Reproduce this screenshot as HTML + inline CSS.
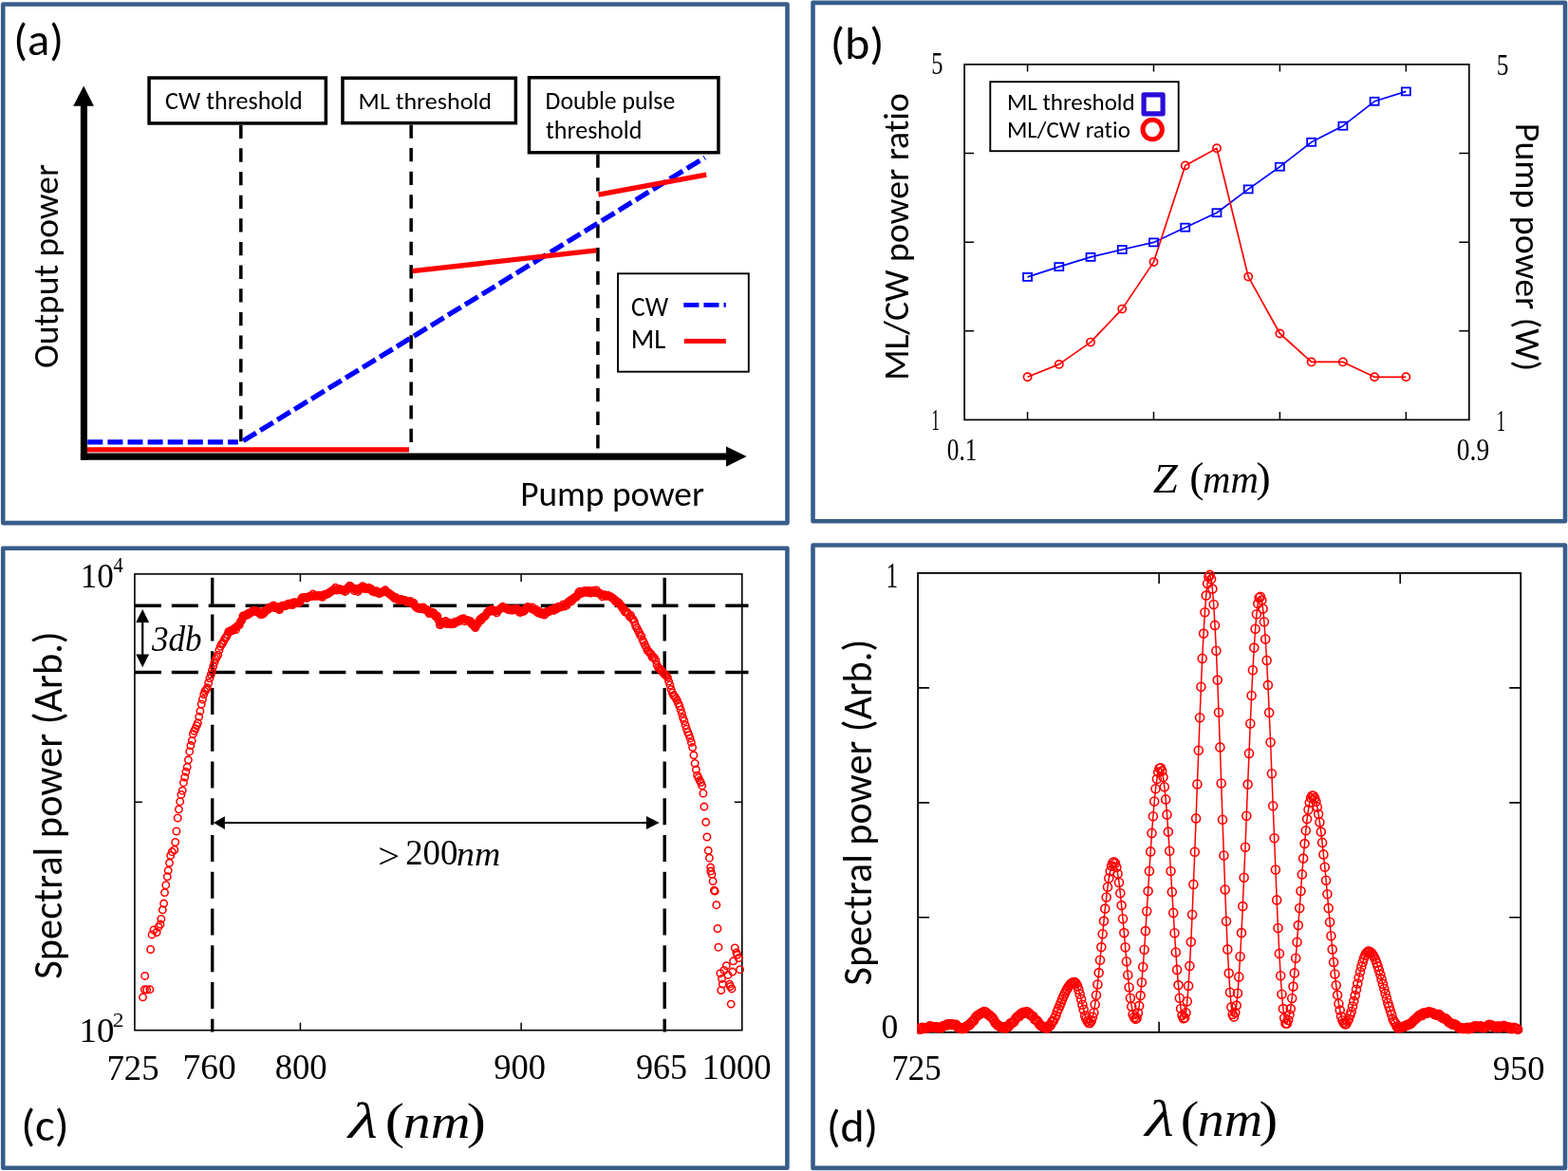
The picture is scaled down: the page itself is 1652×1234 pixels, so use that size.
<!DOCTYPE html>
<html><head><meta charset="utf-8"><title>figure</title>
<style>html,body{margin:0;padding:0;background:#fff;} svg{display:block;} text{font-variant-ligatures:none;}</style></head>
<body><svg width="1652" height="1234" viewBox="0 0 1652 1234">
<rect width="1652" height="1234" fill="#fff"/>
<rect x="3.2" y="4.5" width="826.30" height="546.60" fill="none" stroke="#385D8A" stroke-width="4.6" stroke-linejoin="round"/>
<rect x="856.5" y="2.9" width="792.50" height="546.40" fill="none" stroke="#385D8A" stroke-width="4.6" stroke-linejoin="round"/>
<rect x="3.2" y="577.7" width="826.20" height="653.10" fill="none" stroke="#385D8A" stroke-width="4.6" stroke-linejoin="round"/>
<rect x="856.5" y="574.5" width="792.50" height="656.40" fill="none" stroke="#385D8A" stroke-width="4.6" stroke-linejoin="round"/>
<line x1="88.4" y1="484.6" x2="88.4" y2="110" stroke="#000" stroke-width="7.1"/>
<polygon points="77.2,111.8 98.9,111.8 88.2,90.4" fill="#000"/>
<line x1="84.9" y1="481.05" x2="766" y2="481.05" stroke="#000" stroke-width="7.2"/>
<polygon points="765,470.4 765,491.8 786.7,481.05" fill="#000"/>
<rect x="157.05" y="82.05" width="186.30" height="47.90" fill="#fff" stroke="#000" stroke-width="3.5"/>
<rect x="360.95" y="82.25" width="182.40" height="47.40" fill="#fff" stroke="#000" stroke-width="3.5"/>
<rect x="557.45" y="81.75" width="199.50" height="79.00" fill="#fff" stroke="#000" stroke-width="3.5"/>
<line x1="253.8" y1="131.7" x2="253.8" y2="465.2" stroke="#000" stroke-width="3.5" stroke-dasharray="14.3 10.35"/>
<line x1="433.15" y1="131.4" x2="433.15" y2="466.0" stroke="#000" stroke-width="3.5" stroke-dasharray="14.3 10.35"/>
<line x1="629.9" y1="162.5" x2="629.9" y2="472.6" stroke="#000" stroke-width="3.5" stroke-dasharray="14.3 10.35"/>
<line x1="92.3" y1="465.85" x2="250.8" y2="465.85" stroke="#0000FF" stroke-width="5.3" stroke-dasharray="16 5.1"/>
<line x1="256.2" y1="464.55" x2="742.6" y2="166.0" stroke="#0000FF" stroke-width="5.3" stroke-dasharray="16 5.1"/>
<line x1="92" y1="473.85" x2="431" y2="473.85" stroke="#FF0000" stroke-width="5.4"/>
<line x1="434.6" y1="285.7" x2="628.2" y2="263.9" stroke="#FF0000" stroke-width="5.3"/>
<line x1="630.5" y1="205.2" x2="744.2" y2="184.2" stroke="#FF0000" stroke-width="5.3"/>
<rect x="651" y="288.3" width="137.8" height="103.4" fill="#fff" stroke="#000" stroke-width="1.9"/>
<line x1="720.3" y1="321.4" x2="764.8" y2="321.4" stroke="#0000FF" stroke-width="4.8" stroke-dasharray="16.1 5"/>
<line x1="720.8" y1="359.5" x2="764.8" y2="359.5" stroke="#FF0000" stroke-width="5"/>
<rect x="1016.1" y="67.9" width="531.70" height="374.50" fill="none" stroke="#000" stroke-width="1.7"/>
<path d="M1082.56,442.4v-8.5M1082.56,67.9v7.5M1215.49,442.4v-8.5M1215.49,67.9v7.5M1348.41,442.4v-8.5M1348.41,67.9v7.5M1481.34,442.4v-8.5M1481.34,67.9v7.5M1016.1,161.53h10M1547.8,161.53h-10.5M1016.1,255.15h10M1547.8,255.15h-10.5M1016.1,348.77h10M1547.8,348.77h-10.5" stroke="#000" stroke-width="1.5" fill="none"/>
<polyline points="1082.56,291.9 1115.79,281.1 1149.03,270.9 1182.26,263.0 1215.49,255.4 1248.72,239.7 1281.95,224.2 1315.18,199.4 1348.41,175.7 1381.64,149.8 1414.88,132.7 1448.11,106.8 1481.34,96.4" fill="none" stroke="#0000FF" stroke-width="1.7" stroke-linejoin="round"/>
<polyline points="1082.56,397.2 1115.79,383.9 1149.03,360.6 1182.26,325.6 1215.49,276.1 1248.72,174.5 1281.95,156.3 1315.18,291.6 1348.41,351.5 1381.64,381.4 1414.88,381.4 1448.11,397.3 1481.34,397.3" fill="none" stroke="#FF0000" stroke-width="1.7" stroke-linejoin="round"/>
<rect x="1078.06" y="287.90" width="9" height="8" fill="none" stroke="#0000FF" stroke-width="1.8"/>
<rect x="1111.29" y="277.10" width="9" height="8" fill="none" stroke="#0000FF" stroke-width="1.8"/>
<rect x="1144.53" y="266.90" width="9" height="8" fill="none" stroke="#0000FF" stroke-width="1.8"/>
<rect x="1177.76" y="259.00" width="9" height="8" fill="none" stroke="#0000FF" stroke-width="1.8"/>
<rect x="1210.99" y="251.40" width="9" height="8" fill="none" stroke="#0000FF" stroke-width="1.8"/>
<rect x="1244.22" y="235.70" width="9" height="8" fill="none" stroke="#0000FF" stroke-width="1.8"/>
<rect x="1277.45" y="220.20" width="9" height="8" fill="none" stroke="#0000FF" stroke-width="1.8"/>
<rect x="1310.68" y="195.40" width="9" height="8" fill="none" stroke="#0000FF" stroke-width="1.8"/>
<rect x="1343.91" y="171.70" width="9" height="8" fill="none" stroke="#0000FF" stroke-width="1.8"/>
<rect x="1377.14" y="145.80" width="9" height="8" fill="none" stroke="#0000FF" stroke-width="1.8"/>
<rect x="1410.38" y="128.70" width="9" height="8" fill="none" stroke="#0000FF" stroke-width="1.8"/>
<rect x="1443.61" y="102.80" width="9" height="8" fill="none" stroke="#0000FF" stroke-width="1.8"/>
<rect x="1476.84" y="92.40" width="9" height="8" fill="none" stroke="#0000FF" stroke-width="1.8"/>
<circle cx="1082.56" cy="397.2" r="4.1" fill="none" stroke="#FF0000" stroke-width="1.7"/>
<circle cx="1115.79" cy="383.9" r="4.1" fill="none" stroke="#FF0000" stroke-width="1.7"/>
<circle cx="1149.03" cy="360.6" r="4.1" fill="none" stroke="#FF0000" stroke-width="1.7"/>
<circle cx="1182.26" cy="325.6" r="4.1" fill="none" stroke="#FF0000" stroke-width="1.7"/>
<circle cx="1215.49" cy="276.1" r="4.1" fill="none" stroke="#FF0000" stroke-width="1.7"/>
<circle cx="1248.72" cy="174.5" r="4.1" fill="none" stroke="#FF0000" stroke-width="1.7"/>
<circle cx="1281.95" cy="156.3" r="4.1" fill="none" stroke="#FF0000" stroke-width="1.7"/>
<circle cx="1315.18" cy="291.6" r="4.1" fill="none" stroke="#FF0000" stroke-width="1.7"/>
<circle cx="1348.41" cy="351.5" r="4.1" fill="none" stroke="#FF0000" stroke-width="1.7"/>
<circle cx="1381.64" cy="381.4" r="4.1" fill="none" stroke="#FF0000" stroke-width="1.7"/>
<circle cx="1414.88" cy="381.4" r="4.1" fill="none" stroke="#FF0000" stroke-width="1.7"/>
<circle cx="1448.11" cy="397.3" r="4.1" fill="none" stroke="#FF0000" stroke-width="1.7"/>
<circle cx="1481.34" cy="397.3" r="4.1" fill="none" stroke="#FF0000" stroke-width="1.7"/>
<rect x="1043.3" y="86.2" width="198.4" height="73" fill="#fff" stroke="#000" stroke-width="1.9"/>
<rect x="1205.1" y="99.85" width="20" height="20" fill="none" stroke="#2A0CDA" stroke-width="5.2" stroke-linejoin="round"/>
<circle cx="1214.2" cy="136.5" r="10.2" fill="none" stroke="#FF0000" stroke-width="5"/>
<rect x="141.9" y="604.9" width="639.90" height="480.80" fill="none" stroke="#000" stroke-width="1.6"/>
<path d="M316.42,1085.7v-8M316.42,604.9v8M549.11,1085.7v-8M549.11,604.9v8M141.9,845.30h8M781.8,845.30h-8" stroke="#000" stroke-width="1.5" fill="none"/>
<line x1="141.9" y1="638.2" x2="788.5" y2="638.2" stroke="#000" stroke-width="3.5" stroke-dasharray="28 10.9"/>
<line x1="141.9" y1="708.5" x2="788.5" y2="708.5" stroke="#000" stroke-width="3.5" stroke-dasharray="28 10.9"/>
<line x1="223.7" y1="608.7" x2="223.7" y2="1087.5" stroke="#000" stroke-width="3.4" stroke-dasharray="28 10.75"/>
<line x1="700.2" y1="608.7" x2="700.2" y2="1087.5" stroke="#000" stroke-width="3.4" stroke-dasharray="28 10.75"/>
<polyline points="242.2,665.2 243.4,664.2 244.7,663.4 245.9,663.0 247.2,662.6 248.4,662.2 249.7,661.3 250.9,659.6 252.2,657.9 253.4,656.2 254.7,653.7 255.9,650.5 257.1,648.6 258.4,648.1 259.6,647.5 260.9,647.0 262.1,646.5 263.4,645.7 264.6,644.9 265.9,644.1 267.1,643.3 268.4,642.5 269.6,643.2 270.9,644.1 272.1,645.1 273.4,646.0 274.6,647.0 275.9,646.7 277.1,645.8 278.4,644.8 279.6,643.9 280.9,642.9 282.1,642.2 283.4,641.6 284.6,641.1 285.9,640.5 287.1,640.0 288.4,639.4 289.6,639.7 290.9,640.5 292.1,641.4 293.4,642.2 294.6,641.5 295.9,640.2 297.1,639.0 298.4,637.8 299.6,637.5 300.9,637.3 302.1,637.1 303.4,636.9 304.6,636.8 305.9,636.5 307.1,636.3 308.4,636.0 309.6,635.8 310.9,635.8 312.1,636.0 313.4,636.2 314.6,635.7 315.9,634.2 317.1,632.7 318.4,631.2 319.6,630.1 320.9,629.8 322.1,629.4 323.4,629.0 324.6,628.6 325.9,628.3 327.1,628.0 328.4,627.7 329.6,627.4 330.9,627.1 332.1,626.8 333.4,626.8 334.6,627.3 335.9,627.8 337.1,628.3 338.4,628.8 339.6,628.9 340.9,628.4 342.1,627.9 343.4,627.4 344.6,626.8 345.9,626.2 347.1,625.6 348.4,624.9 349.6,624.0 350.9,622.9 352.1,621.8 353.4,620.8 354.6,620.9 355.9,621.2 357.1,621.5 358.4,621.8 359.6,622.1 360.9,622.5 362.1,622.8 363.4,622.4 364.6,621.3 365.9,620.2 367.1,619.0 368.4,618.4 369.6,619.2 370.9,620.0 372.1,620.9 373.4,621.7 374.6,622.0 375.9,622.3 377.1,622.1 378.4,621.3 379.6,620.6 380.9,619.8 382.1,619.1 383.4,619.0 384.6,619.2 385.9,619.4 387.1,619.7 388.4,619.9 389.6,620.6 390.9,621.4 392.1,622.2 393.4,622.9 394.6,623.2 395.9,623.5 397.1,623.7 398.4,624.0 399.6,624.2 400.9,623.7 402.1,623.3 403.4,622.8 404.6,622.4 405.9,622.6 407.1,623.9 408.4,625.1 409.6,626.4 410.9,627.6 412.1,628.0 413.4,628.4 414.6,628.8 415.9,629.2 417.1,629.7 418.4,630.1 419.6,630.7 420.9,631.4 422.1,632.0 423.4,632.6 424.6,633.2 425.9,633.6 427.1,633.6 428.4,633.6 429.6,633.6 430.9,633.6 432.1,633.6 433.4,634.2 434.6,635.4 435.9,636.5 437.1,637.7 438.4,638.8 439.6,639.7 440.9,640.5 442.1,641.3 443.4,641.2 444.6,640.9 445.9,640.6 447.1,640.3 448.4,641.5 449.6,642.7 450.9,643.9 452.1,645.1 453.4,645.6 454.6,646.1 455.9,646.6 457.1,647.1 458.4,647.8 459.6,649.1 460.9,650.4 462.1,652.8 463.4,657.1 464.6,657.5 465.9,657.1 467.1,656.7 468.4,656.4 469.6,656.0 470.9,656.1 472.1,656.3 473.4,656.4 474.6,656.5 475.9,656.6 477.1,656.5 478.4,656.3 479.6,656.2 480.9,656.1 482.1,655.7 483.4,654.9 484.6,654.1 485.9,653.3 487.1,652.4 488.4,652.9 489.6,653.5 490.9,653.6 492.1,653.6 493.4,653.6 494.6,653.6 495.9,655.0 497.1,656.6 498.4,658.3 499.6,659.9 500.9,661.5 502.1,659.5 503.4,657.5 504.6,655.5 505.9,654.0 507.1,652.8 508.4,651.5 509.6,650.2 510.9,649.0 512.1,647.5 513.4,646.0 514.6,644.4 515.9,642.8 517.1,643.1 518.4,643.5 519.6,643.9 520.9,644.3 522.1,644.7 523.4,645.0 524.6,643.6 525.9,642.2 527.1,640.8 528.4,639.4 529.6,639.5 530.9,640.0 532.1,640.6 533.4,641.1 534.6,641.6 535.9,642.1 537.1,642.7 538.4,642.3 539.6,641.9 540.9,641.5 542.1,641.1 543.4,641.3 544.6,642.1 545.9,642.9 547.1,643.6 548.4,644.4 549.6,645.2 550.9,645.3 552.1,644.2 553.4,643.1 554.6,641.9 555.9,640.8 557.1,639.7 558.4,639.5 559.6,640.2 560.9,641.0 562.1,641.7 563.4,642.5 564.6,643.3 565.9,644.0 567.1,644.5 568.4,645.0 569.6,645.5 570.9,646.1 572.1,646.6 573.4,646.7 574.6,646.1 575.9,645.5 577.1,645.0 578.4,644.4 579.6,643.9 580.9,643.4 582.1,643.1 583.4,642.7 584.6,642.3 585.9,642.0 587.1,641.4 588.4,640.8 589.6,640.1 590.9,639.5 592.1,638.9 593.4,638.3 594.6,637.6 595.9,637.0 597.1,636.4 598.4,635.8 599.6,634.9 600.9,634.0 602.1,633.1 603.4,632.2 604.6,631.1 605.9,629.6 607.1,628.1 608.4,626.6 609.6,625.2 610.9,624.3 612.1,624.2 613.4,624.1 614.6,624.0 615.9,623.8 617.1,623.8 618.4,623.8 619.6,623.8 620.9,623.8 622.1,623.8 623.4,623.7 624.6,623.6 625.9,623.5 627.1,623.3 628.4,623.2 629.6,624.1 630.9,624.9 632.1,625.8 633.4,626.6 634.6,627.4 635.9,627.7 637.1,627.9 638.4,628.2 639.6,628.4 640.9,628.8 642.1,629.4 643.4,630.0 644.6,630.6 645.9,631.3 647.1,632.0 648.4,633.1 649.6,634.1 650.9,635.1 652.1,636.1 653.4,637.8 654.6,639.8" fill="none" stroke="#FF0000" stroke-width="6.5" stroke-linejoin="round" stroke-linecap="round"/>
<g fill="none" stroke="#FF0000" stroke-width="1.55"><circle cx="150.5" cy="1050.8" r="3.7"/><circle cx="152.4" cy="1042.7" r="3.7"/><circle cx="154.6" cy="1043.0" r="3.7"/><circle cx="157.9" cy="1042.7" r="3.7"/><circle cx="152.7" cy="1028.4" r="3.7"/><circle cx="158.6" cy="1000.5" r="3.7"/><circle cx="160.1" cy="984.9" r="3.7"/><circle cx="162.0" cy="980.0" r="3.7"/><circle cx="165.1" cy="982.5" r="3.7"/><circle cx="167.0" cy="976.9" r="3.7"/><circle cx="168.9" cy="974.1" r="3.7"/><circle cx="169.8" cy="968.5" r="3.7"/><circle cx="171.3" cy="958.8" r="3.7"/><circle cx="172.6" cy="952.1" r="3.7"/><circle cx="173.5" cy="940.6" r="3.7"/><circle cx="174.8" cy="932.7" r="3.7"/><circle cx="176.3" cy="923.8" r="3.7"/><circle cx="177.2" cy="917.3" r="3.7"/><circle cx="178.5" cy="909.3" r="3.7"/><circle cx="179.7" cy="901.5" r="3.7"/><circle cx="181.3" cy="897.7" r="3.7"/><circle cx="183.8" cy="895.5" r="3.7"/><circle cx="184.7" cy="887.5" r="3.7"/><circle cx="185.9" cy="876.0" r="3.7"/><circle cx="187.2" cy="862.0" r="3.7"/><circle cx="188.4" cy="852.8" r="3.7"/><circle cx="189.7" cy="844.7" r="3.7"/><circle cx="190.9" cy="837.4" r="3.7"/><circle cx="192.2" cy="833.2" r="3.7"/><circle cx="193.4" cy="824.7" r="3.7"/><circle cx="194.7" cy="819.1" r="3.7"/><circle cx="195.9" cy="813.3" r="3.7"/><circle cx="197.2" cy="808.3" r="3.7"/><circle cx="198.4" cy="800.8" r="3.7"/><circle cx="199.7" cy="791.9" r="3.7"/><circle cx="200.9" cy="785.6" r="3.7"/><circle cx="202.2" cy="780.6" r="3.7"/><circle cx="203.4" cy="773.5" r="3.7"/><circle cx="204.7" cy="770.4" r="3.7"/><circle cx="205.9" cy="767.8" r="3.7"/><circle cx="207.2" cy="764.7" r="3.7"/><circle cx="208.4" cy="761.8" r="3.7"/><circle cx="209.7" cy="755.3" r="3.7"/><circle cx="210.9" cy="749.4" r="3.7"/><circle cx="212.2" cy="742.0" r="3.7"/><circle cx="213.4" cy="737.0" r="3.7"/><circle cx="214.7" cy="731.8" r="3.7"/><circle cx="215.9" cy="728.5" r="3.7"/><circle cx="217.2" cy="726.7" r="3.7"/><circle cx="218.4" cy="724.8" r="3.7"/><circle cx="219.7" cy="719.5" r="3.7"/><circle cx="220.9" cy="714.8" r="3.7"/><circle cx="222.2" cy="710.8" r="3.7"/><circle cx="223.4" cy="706.7" r="3.7"/><circle cx="224.7" cy="702.1" r="3.7"/><circle cx="225.9" cy="698.2" r="3.7"/><circle cx="227.2" cy="694.5" r="3.7"/><circle cx="228.4" cy="692.3" r="3.7"/><circle cx="229.7" cy="690.2" r="3.7"/><circle cx="230.9" cy="685.0" r="3.7"/><circle cx="232.2" cy="681.3" r="3.7"/><circle cx="233.4" cy="678.9" r="3.7"/><circle cx="234.7" cy="677.6" r="3.7"/><circle cx="235.9" cy="675.2" r="3.7"/><circle cx="237.2" cy="672.3" r="3.7"/><circle cx="238.4" cy="671.3" r="3.7"/><circle cx="239.7" cy="668.6" r="3.7"/><circle cx="240.9" cy="665.5" r="3.7"/><circle cx="242.2" cy="665.4" r="3.7"/><circle cx="243.4" cy="664.3" r="3.7"/><circle cx="244.7" cy="664.5" r="3.7"/><circle cx="245.9" cy="663.7" r="3.7"/><circle cx="247.2" cy="661.9" r="3.7"/><circle cx="248.4" cy="663.6" r="3.7"/><circle cx="249.7" cy="660.1" r="3.7"/><circle cx="250.9" cy="659.4" r="3.7"/><circle cx="252.2" cy="658.7" r="3.7"/><circle cx="253.4" cy="655.2" r="3.7"/><circle cx="254.7" cy="653.7" r="3.7"/><circle cx="255.9" cy="649.1" r="3.7"/><circle cx="257.1" cy="649.1" r="3.7"/><circle cx="258.4" cy="648.9" r="3.7"/><circle cx="259.6" cy="647.8" r="3.7"/><circle cx="260.9" cy="648.1" r="3.7"/><circle cx="262.1" cy="645.9" r="3.7"/><circle cx="263.4" cy="646.3" r="3.7"/><circle cx="264.6" cy="645.2" r="3.7"/><circle cx="265.9" cy="644.3" r="3.7"/><circle cx="267.1" cy="643.2" r="3.7"/><circle cx="268.4" cy="643.5" r="3.7"/><circle cx="269.6" cy="644.5" r="3.7"/><circle cx="270.9" cy="644.1" r="3.7"/><circle cx="272.1" cy="645.6" r="3.7"/><circle cx="273.4" cy="644.7" r="3.7"/><circle cx="274.6" cy="647.6" r="3.7"/><circle cx="275.9" cy="647.1" r="3.7"/><circle cx="277.1" cy="647.2" r="3.7"/><circle cx="278.4" cy="645.8" r="3.7"/><circle cx="279.6" cy="643.2" r="3.7"/><circle cx="280.9" cy="642.6" r="3.7"/><circle cx="282.1" cy="642.7" r="3.7"/><circle cx="283.4" cy="640.2" r="3.7"/><circle cx="284.6" cy="640.9" r="3.7"/><circle cx="285.9" cy="639.5" r="3.7"/><circle cx="287.1" cy="638.8" r="3.7"/><circle cx="288.4" cy="638.1" r="3.7"/><circle cx="289.6" cy="640.5" r="3.7"/><circle cx="290.9" cy="639.4" r="3.7"/><circle cx="292.1" cy="640.6" r="3.7"/><circle cx="293.4" cy="641.9" r="3.7"/><circle cx="294.6" cy="642.6" r="3.7"/><circle cx="295.9" cy="639.0" r="3.7"/><circle cx="297.1" cy="638.9" r="3.7"/><circle cx="298.4" cy="637.9" r="3.7"/><circle cx="299.6" cy="638.6" r="3.7"/><circle cx="300.9" cy="638.2" r="3.7"/><circle cx="302.1" cy="638.2" r="3.7"/><circle cx="303.4" cy="636.3" r="3.7"/><circle cx="304.6" cy="636.5" r="3.7"/><circle cx="305.9" cy="636.1" r="3.7"/><circle cx="307.1" cy="637.4" r="3.7"/><circle cx="308.4" cy="637.4" r="3.7"/><circle cx="309.6" cy="634.7" r="3.7"/><circle cx="310.9" cy="634.9" r="3.7"/><circle cx="312.1" cy="635.2" r="3.7"/><circle cx="313.4" cy="635.4" r="3.7"/><circle cx="314.6" cy="635.7" r="3.7"/><circle cx="315.9" cy="634.5" r="3.7"/><circle cx="317.1" cy="632.0" r="3.7"/><circle cx="318.4" cy="629.7" r="3.7"/><circle cx="319.6" cy="629.9" r="3.7"/><circle cx="320.9" cy="629.4" r="3.7"/><circle cx="322.1" cy="629.6" r="3.7"/><circle cx="323.4" cy="630.4" r="3.7"/><circle cx="324.6" cy="629.2" r="3.7"/><circle cx="325.9" cy="628.4" r="3.7"/><circle cx="327.1" cy="628.4" r="3.7"/><circle cx="328.4" cy="628.2" r="3.7"/><circle cx="329.6" cy="626.1" r="3.7"/><circle cx="330.9" cy="628.3" r="3.7"/><circle cx="332.1" cy="627.6" r="3.7"/><circle cx="333.4" cy="627.9" r="3.7"/><circle cx="334.6" cy="628.2" r="3.7"/><circle cx="335.9" cy="627.5" r="3.7"/><circle cx="337.1" cy="628.0" r="3.7"/><circle cx="338.4" cy="627.6" r="3.7"/><circle cx="339.6" cy="629.3" r="3.7"/><circle cx="340.9" cy="627.1" r="3.7"/><circle cx="342.1" cy="626.6" r="3.7"/><circle cx="343.4" cy="626.5" r="3.7"/><circle cx="344.6" cy="625.8" r="3.7"/><circle cx="345.9" cy="625.7" r="3.7"/><circle cx="347.1" cy="624.2" r="3.7"/><circle cx="348.4" cy="623.5" r="3.7"/><circle cx="349.6" cy="622.9" r="3.7"/><circle cx="350.9" cy="621.7" r="3.7"/><circle cx="352.1" cy="621.4" r="3.7"/><circle cx="353.4" cy="619.3" r="3.7"/><circle cx="354.6" cy="622.0" r="3.7"/><circle cx="355.9" cy="621.5" r="3.7"/><circle cx="357.1" cy="620.4" r="3.7"/><circle cx="358.4" cy="621.1" r="3.7"/><circle cx="359.6" cy="621.7" r="3.7"/><circle cx="360.9" cy="622.1" r="3.7"/><circle cx="362.1" cy="621.7" r="3.7"/><circle cx="363.4" cy="623.4" r="3.7"/><circle cx="364.6" cy="622.7" r="3.7"/><circle cx="365.9" cy="620.1" r="3.7"/><circle cx="367.1" cy="619.0" r="3.7"/><circle cx="368.4" cy="617.2" r="3.7"/><circle cx="369.6" cy="618.0" r="3.7"/><circle cx="370.9" cy="619.6" r="3.7"/><circle cx="372.1" cy="620.1" r="3.7"/><circle cx="373.4" cy="622.7" r="3.7"/><circle cx="374.6" cy="621.0" r="3.7"/><circle cx="375.9" cy="620.8" r="3.7"/><circle cx="377.1" cy="623.4" r="3.7"/><circle cx="378.4" cy="621.4" r="3.7"/><circle cx="379.6" cy="619.5" r="3.7"/><circle cx="380.9" cy="619.9" r="3.7"/><circle cx="382.1" cy="617.7" r="3.7"/><circle cx="383.4" cy="619.0" r="3.7"/><circle cx="384.6" cy="620.6" r="3.7"/><circle cx="385.9" cy="620.5" r="3.7"/><circle cx="387.1" cy="620.3" r="3.7"/><circle cx="388.4" cy="619.2" r="3.7"/><circle cx="389.6" cy="620.2" r="3.7"/><circle cx="390.9" cy="620.4" r="3.7"/><circle cx="392.1" cy="623.0" r="3.7"/><circle cx="393.4" cy="623.0" r="3.7"/><circle cx="394.6" cy="624.1" r="3.7"/><circle cx="395.9" cy="623.0" r="3.7"/><circle cx="397.1" cy="622.9" r="3.7"/><circle cx="398.4" cy="624.9" r="3.7"/><circle cx="399.6" cy="625.6" r="3.7"/><circle cx="400.9" cy="624.8" r="3.7"/><circle cx="402.1" cy="624.2" r="3.7"/><circle cx="403.4" cy="623.8" r="3.7"/><circle cx="404.6" cy="623.1" r="3.7"/><circle cx="405.9" cy="621.8" r="3.7"/><circle cx="407.1" cy="623.9" r="3.7"/><circle cx="408.4" cy="624.7" r="3.7"/><circle cx="409.6" cy="624.9" r="3.7"/><circle cx="410.9" cy="626.2" r="3.7"/><circle cx="412.1" cy="627.3" r="3.7"/><circle cx="413.4" cy="627.7" r="3.7"/><circle cx="414.6" cy="629.4" r="3.7"/><circle cx="415.9" cy="630.6" r="3.7"/><circle cx="417.1" cy="629.5" r="3.7"/><circle cx="418.4" cy="631.4" r="3.7"/><circle cx="419.6" cy="632.2" r="3.7"/><circle cx="420.9" cy="632.7" r="3.7"/><circle cx="422.1" cy="631.6" r="3.7"/><circle cx="423.4" cy="631.8" r="3.7"/><circle cx="424.6" cy="632.4" r="3.7"/><circle cx="425.9" cy="632.7" r="3.7"/><circle cx="427.1" cy="632.7" r="3.7"/><circle cx="428.4" cy="634.0" r="3.7"/><circle cx="429.6" cy="634.8" r="3.7"/><circle cx="430.9" cy="634.6" r="3.7"/><circle cx="432.1" cy="633.5" r="3.7"/><circle cx="433.4" cy="634.7" r="3.7"/><circle cx="434.6" cy="636.3" r="3.7"/><circle cx="435.9" cy="635.3" r="3.7"/><circle cx="437.1" cy="638.2" r="3.7"/><circle cx="438.4" cy="640.1" r="3.7"/><circle cx="439.6" cy="640.6" r="3.7"/><circle cx="440.9" cy="641.3" r="3.7"/><circle cx="442.1" cy="641.3" r="3.7"/><circle cx="443.4" cy="640.3" r="3.7"/><circle cx="444.6" cy="641.8" r="3.7"/><circle cx="445.9" cy="640.1" r="3.7"/><circle cx="447.1" cy="641.2" r="3.7"/><circle cx="448.4" cy="642.9" r="3.7"/><circle cx="449.6" cy="642.4" r="3.7"/><circle cx="450.9" cy="643.6" r="3.7"/><circle cx="452.1" cy="646.5" r="3.7"/><circle cx="453.4" cy="646.3" r="3.7"/><circle cx="454.6" cy="645.1" r="3.7"/><circle cx="455.9" cy="645.5" r="3.7"/><circle cx="457.1" cy="646.1" r="3.7"/><circle cx="458.4" cy="649.0" r="3.7"/><circle cx="459.6" cy="650.0" r="3.7"/><circle cx="460.9" cy="649.3" r="3.7"/><circle cx="462.1" cy="653.7" r="3.7"/><circle cx="463.4" cy="658.5" r="3.7"/><circle cx="464.6" cy="658.0" r="3.7"/><circle cx="465.9" cy="656.7" r="3.7"/><circle cx="467.1" cy="656.9" r="3.7"/><circle cx="468.4" cy="655.3" r="3.7"/><circle cx="469.6" cy="654.5" r="3.7"/><circle cx="470.9" cy="657.5" r="3.7"/><circle cx="472.1" cy="656.7" r="3.7"/><circle cx="473.4" cy="656.5" r="3.7"/><circle cx="474.6" cy="657.8" r="3.7"/><circle cx="475.9" cy="656.4" r="3.7"/><circle cx="477.1" cy="657.6" r="3.7"/><circle cx="478.4" cy="657.3" r="3.7"/><circle cx="479.6" cy="655.3" r="3.7"/><circle cx="480.9" cy="655.3" r="3.7"/><circle cx="482.1" cy="655.1" r="3.7"/><circle cx="483.4" cy="654.1" r="3.7"/><circle cx="484.6" cy="654.3" r="3.7"/><circle cx="485.9" cy="652.5" r="3.7"/><circle cx="487.1" cy="652.2" r="3.7"/><circle cx="488.4" cy="651.8" r="3.7"/><circle cx="489.6" cy="654.7" r="3.7"/><circle cx="490.9" cy="653.2" r="3.7"/><circle cx="492.1" cy="653.5" r="3.7"/><circle cx="493.4" cy="653.9" r="3.7"/><circle cx="494.6" cy="654.8" r="3.7"/><circle cx="495.9" cy="654.8" r="3.7"/><circle cx="497.1" cy="657.9" r="3.7"/><circle cx="498.4" cy="658.3" r="3.7"/><circle cx="499.6" cy="660.0" r="3.7"/><circle cx="500.9" cy="661.6" r="3.7"/><circle cx="502.1" cy="658.1" r="3.7"/><circle cx="503.4" cy="657.3" r="3.7"/><circle cx="504.6" cy="654.6" r="3.7"/><circle cx="505.9" cy="652.5" r="3.7"/><circle cx="507.1" cy="653.6" r="3.7"/><circle cx="508.4" cy="650.5" r="3.7"/><circle cx="509.6" cy="650.2" r="3.7"/><circle cx="510.9" cy="649.7" r="3.7"/><circle cx="512.1" cy="647.7" r="3.7"/><circle cx="513.4" cy="645.4" r="3.7"/><circle cx="514.6" cy="644.4" r="3.7"/><circle cx="515.9" cy="643.0" r="3.7"/><circle cx="517.1" cy="643.9" r="3.7"/><circle cx="518.4" cy="642.3" r="3.7"/><circle cx="519.6" cy="644.1" r="3.7"/><circle cx="520.9" cy="643.6" r="3.7"/><circle cx="522.1" cy="644.1" r="3.7"/><circle cx="523.4" cy="645.8" r="3.7"/><circle cx="524.6" cy="643.6" r="3.7"/><circle cx="525.9" cy="642.4" r="3.7"/><circle cx="527.1" cy="641.6" r="3.7"/><circle cx="528.4" cy="640.7" r="3.7"/><circle cx="529.6" cy="639.3" r="3.7"/><circle cx="530.9" cy="640.4" r="3.7"/><circle cx="532.1" cy="640.6" r="3.7"/><circle cx="533.4" cy="641.1" r="3.7"/><circle cx="534.6" cy="642.2" r="3.7"/><circle cx="535.9" cy="642.0" r="3.7"/><circle cx="537.1" cy="642.8" r="3.7"/><circle cx="538.4" cy="642.2" r="3.7"/><circle cx="539.6" cy="643.2" r="3.7"/><circle cx="540.9" cy="642.1" r="3.7"/><circle cx="542.1" cy="642.2" r="3.7"/><circle cx="543.4" cy="642.7" r="3.7"/><circle cx="544.6" cy="641.4" r="3.7"/><circle cx="545.9" cy="643.0" r="3.7"/><circle cx="547.1" cy="645.0" r="3.7"/><circle cx="548.4" cy="645.4" r="3.7"/><circle cx="549.6" cy="644.1" r="3.7"/><circle cx="550.9" cy="644.2" r="3.7"/><circle cx="552.1" cy="644.0" r="3.7"/><circle cx="553.4" cy="641.8" r="3.7"/><circle cx="554.6" cy="641.2" r="3.7"/><circle cx="555.9" cy="639.5" r="3.7"/><circle cx="557.1" cy="640.2" r="3.7"/><circle cx="558.4" cy="640.3" r="3.7"/><circle cx="559.6" cy="641.4" r="3.7"/><circle cx="560.9" cy="639.9" r="3.7"/><circle cx="562.1" cy="642.4" r="3.7"/><circle cx="563.4" cy="643.0" r="3.7"/><circle cx="564.6" cy="642.2" r="3.7"/><circle cx="565.9" cy="645.1" r="3.7"/><circle cx="567.1" cy="645.9" r="3.7"/><circle cx="568.4" cy="644.2" r="3.7"/><circle cx="569.6" cy="646.9" r="3.7"/><circle cx="570.9" cy="645.8" r="3.7"/><circle cx="572.1" cy="646.5" r="3.7"/><circle cx="573.4" cy="648.1" r="3.7"/><circle cx="574.6" cy="647.1" r="3.7"/><circle cx="575.9" cy="644.5" r="3.7"/><circle cx="577.1" cy="644.8" r="3.7"/><circle cx="578.4" cy="644.5" r="3.7"/><circle cx="579.6" cy="643.4" r="3.7"/><circle cx="580.9" cy="642.5" r="3.7"/><circle cx="582.1" cy="642.5" r="3.7"/><circle cx="583.4" cy="643.4" r="3.7"/><circle cx="584.6" cy="640.9" r="3.7"/><circle cx="585.9" cy="642.1" r="3.7"/><circle cx="587.1" cy="641.2" r="3.7"/><circle cx="588.4" cy="639.3" r="3.7"/><circle cx="589.6" cy="639.6" r="3.7"/><circle cx="590.9" cy="639.9" r="3.7"/><circle cx="592.1" cy="638.9" r="3.7"/><circle cx="593.4" cy="637.0" r="3.7"/><circle cx="594.6" cy="639.1" r="3.7"/><circle cx="595.9" cy="637.9" r="3.7"/><circle cx="597.1" cy="637.8" r="3.7"/><circle cx="598.4" cy="634.6" r="3.7"/><circle cx="599.6" cy="634.2" r="3.7"/><circle cx="600.9" cy="632.6" r="3.7"/><circle cx="602.1" cy="633.9" r="3.7"/><circle cx="603.4" cy="631.5" r="3.7"/><circle cx="604.6" cy="630.0" r="3.7"/><circle cx="605.9" cy="629.4" r="3.7"/><circle cx="607.1" cy="629.4" r="3.7"/><circle cx="608.4" cy="627.6" r="3.7"/><circle cx="609.6" cy="624.4" r="3.7"/><circle cx="610.9" cy="623.3" r="3.7"/><circle cx="612.1" cy="625.5" r="3.7"/><circle cx="613.4" cy="624.3" r="3.7"/><circle cx="614.6" cy="624.6" r="3.7"/><circle cx="615.9" cy="622.6" r="3.7"/><circle cx="617.1" cy="622.5" r="3.7"/><circle cx="618.4" cy="624.4" r="3.7"/><circle cx="619.6" cy="623.6" r="3.7"/><circle cx="620.9" cy="622.5" r="3.7"/><circle cx="622.1" cy="625.1" r="3.7"/><circle cx="623.4" cy="624.1" r="3.7"/><circle cx="624.6" cy="624.5" r="3.7"/><circle cx="625.9" cy="622.2" r="3.7"/><circle cx="627.1" cy="624.4" r="3.7"/><circle cx="628.4" cy="621.9" r="3.7"/><circle cx="629.6" cy="625.1" r="3.7"/><circle cx="630.9" cy="624.8" r="3.7"/><circle cx="632.1" cy="625.3" r="3.7"/><circle cx="633.4" cy="626.8" r="3.7"/><circle cx="634.6" cy="628.7" r="3.7"/><circle cx="635.9" cy="627.0" r="3.7"/><circle cx="637.1" cy="626.8" r="3.7"/><circle cx="638.4" cy="628.3" r="3.7"/><circle cx="639.6" cy="627.6" r="3.7"/><circle cx="640.9" cy="627.6" r="3.7"/><circle cx="642.1" cy="628.4" r="3.7"/><circle cx="643.4" cy="628.7" r="3.7"/><circle cx="644.6" cy="629.7" r="3.7"/><circle cx="645.9" cy="630.7" r="3.7"/><circle cx="647.1" cy="631.5" r="3.7"/><circle cx="648.4" cy="633.8" r="3.7"/><circle cx="649.6" cy="633.5" r="3.7"/><circle cx="650.9" cy="635.1" r="3.7"/><circle cx="652.1" cy="635.2" r="3.7"/><circle cx="653.4" cy="637.3" r="3.7"/><circle cx="654.6" cy="638.4" r="3.7"/><circle cx="655.9" cy="641.1" r="3.7"/><circle cx="657.1" cy="641.7" r="3.7"/><circle cx="658.4" cy="644.8" r="3.7"/><circle cx="659.6" cy="645.2" r="3.7"/><circle cx="660.9" cy="645.1" r="3.7"/><circle cx="662.1" cy="647.2" r="3.7"/><circle cx="663.4" cy="649.8" r="3.7"/><circle cx="664.6" cy="648.5" r="3.7"/><circle cx="665.9" cy="651.9" r="3.7"/><circle cx="667.1" cy="652.9" r="3.7"/><circle cx="668.4" cy="655.4" r="3.7"/><circle cx="669.6" cy="659.5" r="3.7"/><circle cx="670.9" cy="661.7" r="3.7"/><circle cx="672.1" cy="664.0" r="3.7"/><circle cx="673.4" cy="666.5" r="3.7"/><circle cx="674.6" cy="669.4" r="3.7"/><circle cx="675.9" cy="670.3" r="3.7"/><circle cx="677.1" cy="674.6" r="3.7"/><circle cx="678.4" cy="677.2" r="3.7"/><circle cx="679.6" cy="679.8" r="3.7"/><circle cx="680.9" cy="682.3" r="3.7"/><circle cx="682.1" cy="685.3" r="3.7"/><circle cx="683.4" cy="686.7" r="3.7"/><circle cx="684.6" cy="688.1" r="3.7"/><circle cx="685.9" cy="689.2" r="3.7"/><circle cx="687.1" cy="692.5" r="3.7"/><circle cx="688.4" cy="692.3" r="3.7"/><circle cx="689.6" cy="693.6" r="3.7"/><circle cx="690.9" cy="695.9" r="3.7"/><circle cx="692.1" cy="700.7" r="3.7"/><circle cx="693.4" cy="703.3" r="3.7"/><circle cx="694.6" cy="704.6" r="3.7"/><circle cx="695.9" cy="705.4" r="3.7"/><circle cx="697.1" cy="707.2" r="3.7"/><circle cx="698.4" cy="708.6" r="3.7"/><circle cx="699.6" cy="710.2" r="3.7"/><circle cx="700.9" cy="711.0" r="3.7"/><circle cx="702.1" cy="712.4" r="3.7"/><circle cx="703.4" cy="713.8" r="3.7"/><circle cx="704.6" cy="718.1" r="3.7"/><circle cx="705.9" cy="722.0" r="3.7"/><circle cx="707.1" cy="726.5" r="3.7"/><circle cx="708.4" cy="730.0" r="3.7"/><circle cx="709.6" cy="732.8" r="3.7"/><circle cx="710.9" cy="734.0" r="3.7"/><circle cx="712.1" cy="736.1" r="3.7"/><circle cx="713.4" cy="738.2" r="3.7"/><circle cx="714.6" cy="741.2" r="3.7"/><circle cx="715.9" cy="743.9" r="3.7"/><circle cx="717.1" cy="748.0" r="3.7"/><circle cx="718.4" cy="751.8" r="3.7"/><circle cx="719.6" cy="756.3" r="3.7"/><circle cx="720.9" cy="759.7" r="3.7"/><circle cx="722.1" cy="764.2" r="3.7"/><circle cx="723.4" cy="768.2" r="3.7"/><circle cx="724.6" cy="771.7" r="3.7"/><circle cx="725.9" cy="774.4" r="3.7"/><circle cx="727.1" cy="778.0" r="3.7"/><circle cx="728.4" cy="782.4" r="3.7"/><circle cx="729.6" cy="787.6" r="3.7"/><circle cx="730.9" cy="795.8" r="3.7"/><circle cx="732.1" cy="804.5" r="3.7"/><circle cx="733.4" cy="811.1" r="3.7"/><circle cx="734.6" cy="817.2" r="3.7"/><circle cx="735.9" cy="819.7" r="3.7"/><circle cx="737.1" cy="822.4" r="3.7"/><circle cx="738.4" cy="824.6" r="3.7"/><circle cx="739.6" cy="827.9" r="3.7"/><circle cx="740.9" cy="836.0" r="3.7"/><circle cx="741.9" cy="850.1" r="3.7"/><circle cx="743.7" cy="866.3" r="3.7"/><circle cx="744.9" cy="882.0" r="3.7"/><circle cx="746.2" cy="896.3" r="3.7"/><circle cx="747.4" cy="904.2" r="3.7"/><circle cx="748.6" cy="914.1" r="3.7"/><circle cx="748.8" cy="918.1" r="3.7"/><circle cx="750.0" cy="921.3" r="3.7"/><circle cx="751.1" cy="928.6" r="3.7"/><circle cx="752.4" cy="938.3" r="3.7"/><circle cx="753.2" cy="939.1" r="3.7"/><circle cx="754.8" cy="953.7" r="3.7"/><circle cx="756.0" cy="978.5" r="3.7"/><circle cx="756.9" cy="998.2" r="3.7"/><circle cx="758.9" cy="1025.7" r="3.7"/><circle cx="760.5" cy="1031.4" r="3.7"/><circle cx="761.3" cy="1037.1" r="3.7"/><circle cx="759.7" cy="1043.6" r="3.7"/><circle cx="762.9" cy="1022.5" r="3.7"/><circle cx="765.3" cy="1017.7" r="3.7"/><circle cx="767.0" cy="1027.4" r="3.7"/><circle cx="768.6" cy="1037.1" r="3.7"/><circle cx="769.4" cy="1039.5" r="3.7"/><circle cx="771.0" cy="1041.9" r="3.7"/><circle cx="770.2" cy="1058.1" r="3.7"/><circle cx="771.8" cy="1024.1" r="3.7"/><circle cx="772.6" cy="1012.8" r="3.7"/><circle cx="774.3" cy="999.0" r="3.7"/><circle cx="775.9" cy="1003.9" r="3.7"/><circle cx="776.7" cy="1006.3" r="3.7"/><circle cx="778.3" cy="1009.6" r="3.7"/><circle cx="779.6" cy="1021.7" r="3.7"/></g>
<line x1="150.2" y1="655" x2="150.2" y2="690" stroke="#000" stroke-width="2.3"/>
<polygon points="143.2,656 157.1,656 150.2,642" fill="#000"/>
<polygon points="143.2,689.4 157.1,689.4 150.2,703.3" fill="#000"/>
<line x1="236" y1="867" x2="682" y2="867" stroke="#000" stroke-width="2.1"/>
<polygon points="225,867.1 236.9,860.2 236.9,874" fill="#000"/>
<polygon points="694.7,867 680.9,860 680.9,873.9" fill="#000"/>
<rect x="967.1" y="603.9" width="635.10" height="483.90" fill="none" stroke="#000" stroke-width="1.8"/>
<path d="M1221.14,1087.8v-11M1221.14,603.9v11M1475.18,1087.8v-11M1475.18,603.9v11M967.1,724.88h12M1602.2,724.88h-12M967.1,845.85h12M1602.2,845.85h-12M967.1,966.82h12M1602.2,966.82h-12" stroke="#000" stroke-width="1.6" fill="none"/>
<clipPath id="clipd"><rect x="965.9" y="560" width="700" height="560"/></clipPath><g clip-path="url(#clipd)">
<polyline points="967.5,1083.8 968.8,1084.8 970.2,1084.3 971.5,1082.7 972.8,1083.9 974.2,1083.8 975.5,1083.2 976.8,1083.2 978.1,1083.0 979.5,1081.3 980.8,1081.8 982.1,1081.7 983.5,1082.4 984.8,1082.5 986.1,1082.7 987.5,1082.4 988.8,1083.2 990.1,1082.9 991.4,1083.0 992.8,1081.9 994.1,1081.1 995.4,1080.7 996.8,1080.4 998.1,1079.2 999.4,1080.0 1000.8,1079.1 1002.1,1079.2 1003.4,1079.3 1004.7,1079.9 1006.1,1080.1 1007.4,1079.9 1008.7,1082.3 1010.1,1083.0 1011.4,1083.1 1012.7,1083.6 1014.1,1084.1 1015.4,1082.9 1016.7,1083.8 1018.0,1082.2 1019.4,1080.9 1020.7,1080.2 1022.0,1079.7 1023.4,1077.2 1024.7,1076.6 1026.0,1075.5 1027.4,1072.9 1028.7,1071.2 1030.0,1070.0 1031.3,1069.2 1032.7,1068.5 1034.0,1067.5 1035.3,1067.2 1036.7,1066.0 1038.0,1066.4 1039.3,1067.2 1040.7,1069.0 1042.0,1069.3 1043.3,1071.1 1044.6,1071.5 1046.0,1073.2 1047.3,1075.3 1048.6,1077.7 1050.0,1079.3 1051.3,1080.6 1052.6,1080.9 1054.0,1082.2 1055.3,1082.7 1056.6,1082.9 1057.9,1082.2 1059.3,1083.4 1060.6,1081.5 1061.9,1082.3 1063.3,1081.3 1064.6,1078.3 1065.9,1078.0 1067.2,1077.4 1068.6,1076.3 1069.9,1073.8 1071.2,1072.1 1072.6,1070.7 1073.9,1071.0 1075.2,1068.5 1076.6,1068.3 1077.9,1066.8 1079.2,1067.1 1080.5,1067.7 1081.9,1066.1 1083.2,1067.9 1084.5,1067.9 1085.9,1069.7 1087.2,1070.5 1088.5,1071.0 1089.9,1073.9 1091.2,1074.8 1092.5,1075.5 1093.8,1077.1 1095.2,1079.5 1096.5,1080.7 1097.8,1081.5 1099.2,1081.9 1100.5,1082.8 1101.8,1082.8 1103.2,1083.6 1104.5,1081.1 1105.8,1081.4 1107.1,1080.0 1108.5,1076.6 1109.8,1075.8 1111.1,1072.8 1112.5,1070.3 1113.8,1065.9 1115.1,1062.9 1116.5,1059.8 1117.8,1056.5 1119.1,1053.2 1120.4,1050.1 1121.8,1047.1 1123.1,1044.3 1124.4,1041.9 1125.8,1039.7 1127.1,1037.9 1128.4,1036.5 1129.8,1035.6 1131.1,1035.1 1132.4,1035.1 1133.7,1036.4 1135.1,1039.1 1136.4,1042.9 1137.7,1047.7 1139.1,1053.0 1140.4,1058.7 1141.7,1063.9 1143.1,1070.2 1144.4,1073.5 1145.7,1076.1 1147.0,1078.0 1148.4,1078.0 1149.7,1075.7 1151.0,1071.8 1152.4,1067.2 1153.7,1058.5 1155.0,1048.7 1156.4,1037.5 1157.7,1025.1 1159.0,1011.8 1160.3,998.1 1161.7,984.2 1163.0,970.6 1164.3,957.6 1165.7,945.5 1167.0,934.7 1168.3,925.5 1169.7,918.1 1171.0,912.6 1172.3,909.3 1173.6,908.3 1175.0,909.8 1176.3,914.0 1177.6,920.8 1179.0,930.0 1180.3,941.2 1181.6,954.1 1183.0,968.2 1184.3,983.1 1185.6,998.3 1186.9,1013.3 1188.3,1027.5 1189.6,1040.5 1190.9,1051.8 1192.3,1060.7 1193.6,1069.0 1194.9,1072.0 1196.3,1073.7 1197.6,1072.9 1198.9,1067.5 1200.2,1059.9 1201.6,1049.1 1202.9,1035.3 1204.2,1019.0 1205.6,1000.8 1206.9,981.1 1208.2,960.3 1209.6,939.1 1210.9,917.9 1212.2,897.4 1213.5,877.9 1214.9,860.2 1216.2,844.5 1217.5,831.3 1218.9,821.0 1220.2,813.8 1221.5,809.8 1222.9,809.3 1224.2,812.4 1225.5,819.1 1226.8,829.2 1228.2,842.4 1229.5,858.4 1230.8,876.6 1232.2,896.7 1233.5,918.0 1234.8,939.9 1236.2,961.9 1237.5,983.2 1238.8,1003.5 1240.1,1021.9 1241.5,1038.1 1242.8,1051.7 1244.1,1063.0 1245.5,1069.9 1246.8,1073.2 1248.1,1072.4 1249.5,1067.2 1250.8,1055.2 1252.1,1038.9 1253.4,1017.9 1254.8,992.6 1256.1,963.7 1257.4,931.9 1258.8,897.8 1260.1,862.4 1261.4,826.4 1262.8,790.7 1264.1,756.2 1265.4,723.7 1266.7,693.9 1268.1,667.6 1269.4,645.3 1270.7,627.6 1272.1,615.0 1273.4,607.7 1274.7,605.9 1276.1,610.2 1277.4,620.6 1278.7,637.0 1280.0,658.9 1281.4,685.7 1282.7,716.6 1284.0,750.8 1285.4,787.4 1286.7,825.5 1288.0,863.8 1289.4,901.5 1290.7,937.5 1292.0,970.7 1293.3,1000.4 1294.7,1025.6 1296.0,1045.8 1297.3,1061.2 1298.7,1068.9 1300.0,1071.5 1301.3,1066.9 1302.7,1059.6 1304.0,1046.8 1305.3,1029.4 1306.6,1008.0 1308.0,983.1 1309.3,955.1 1310.6,924.8 1312.0,892.8 1313.3,859.8 1314.6,826.6 1316.0,793.9 1317.3,762.5 1318.6,733.0 1319.9,706.2 1321.3,682.6 1322.6,662.8 1323.9,647.2 1325.3,636.1 1326.6,629.9 1327.9,628.7 1329.3,632.5 1330.6,641.4 1331.9,655.2 1333.2,673.5 1334.6,695.9 1335.9,721.9 1337.2,750.9 1338.6,782.3 1339.9,815.3 1341.2,849.2 1342.6,883.2 1343.9,916.5 1345.2,948.4 1346.5,978.0 1347.9,1004.9 1349.2,1028.3 1350.5,1047.7 1351.9,1063.1 1353.2,1072.7 1354.5,1078.5 1355.9,1078.6 1357.2,1075.1 1358.5,1069.3 1359.8,1063.1 1361.2,1052.0 1362.5,1039.6 1363.8,1025.4 1365.2,1009.7 1366.5,992.8 1367.8,975.1 1369.2,957.0 1370.5,939.0 1371.8,921.4 1373.1,904.6 1374.5,889.1 1375.8,875.2 1377.1,863.1 1378.5,853.2 1379.8,845.7 1381.1,840.8 1382.5,838.5 1383.8,838.8 1385.1,840.9 1386.4,844.8 1387.8,850.4 1389.1,857.7 1390.4,866.4 1391.8,876.6 1393.1,887.9 1394.4,900.4 1395.8,913.7 1397.1,927.7 1398.4,942.2 1399.7,956.9 1401.1,971.7 1402.4,986.2 1403.7,1000.4 1405.1,1013.9 1406.4,1026.5 1407.7,1038.2 1409.1,1048.6 1410.4,1057.7 1411.7,1064.5 1413.0,1071.2 1414.4,1075.2 1415.7,1077.7 1417.0,1079.3 1418.4,1079.1 1419.7,1076.0 1421.0,1074.1 1422.4,1069.8 1423.7,1066.0 1425.0,1060.5 1426.3,1055.1 1427.7,1049.1 1429.0,1042.8 1430.3,1036.5 1431.7,1030.2 1433.0,1024.3 1434.3,1018.8 1435.7,1014.0 1437.0,1009.8 1438.3,1006.6 1439.6,1004.2 1441.0,1002.9 1442.3,1002.6 1443.6,1003.1 1445.0,1004.2 1446.3,1005.9 1447.6,1008.2 1449.0,1011.1 1450.3,1014.5 1451.6,1018.3 1452.9,1022.6 1454.3,1027.1 1455.6,1031.9 1456.9,1036.9 1458.3,1042.0 1459.6,1047.1 1460.9,1052.1 1462.3,1057.0 1463.6,1060.9 1464.9,1065.3 1466.2,1069.3 1467.6,1074.3 1468.9,1076.5 1470.2,1078.5 1471.6,1081.8 1472.9,1083.3 1474.2,1082.9 1475.6,1082.4 1476.9,1082.3 1478.2,1081.8 1479.5,1081.9 1480.9,1080.8 1482.2,1080.4 1483.5,1079.6 1484.9,1079.3 1486.2,1078.9 1487.5,1077.6 1488.9,1075.8 1490.2,1074.7 1491.5,1073.8 1492.8,1072.4 1494.2,1071.3 1495.5,1069.8 1496.8,1069.3 1498.2,1069.9 1499.5,1067.6 1500.8,1067.8 1502.2,1067.6 1503.5,1067.8 1504.8,1066.4 1506.1,1066.6 1507.5,1066.7 1508.8,1067.2 1510.1,1067.6 1511.5,1069.0 1512.8,1069.2 1514.1,1069.8 1515.5,1068.7 1516.8,1069.4 1518.1,1071.5 1519.4,1072.6 1520.8,1072.6 1522.1,1073.7 1523.4,1073.4 1524.8,1075.0 1526.1,1077.0 1527.4,1077.6 1528.8,1078.6 1530.1,1079.6 1531.4,1079.0 1532.7,1079.4 1534.1,1080.2 1535.4,1081.6 1536.7,1082.5 1538.1,1083.5 1539.4,1083.4 1540.7,1083.6 1542.1,1084.1 1543.4,1083.6 1544.7,1083.9 1546.0,1082.8 1547.4,1084.2 1548.7,1082.8 1550.0,1083.8 1551.4,1082.9 1552.7,1081.9 1554.0,1081.2 1555.4,1081.3 1556.7,1082.1 1558.0,1082.3 1559.3,1081.4 1560.7,1081.6 1562.0,1082.7 1563.3,1083.0 1564.7,1082.4 1566.0,1081.6 1567.3,1081.6 1568.7,1079.8 1570.0,1080.0 1571.3,1080.3 1572.6,1081.6 1574.0,1081.6 1575.3,1082.7 1576.6,1082.1 1578.0,1081.6 1579.3,1081.5 1580.6,1082.8 1582.0,1082.1 1583.3,1081.2 1584.6,1080.7 1585.9,1081.8 1587.3,1082.4 1588.6,1082.2 1589.9,1082.3 1591.3,1083.5 1592.6,1084.3 1593.9,1083.0 1595.3,1082.7 1596.6,1083.6 1597.9,1084.1 1599.2,1084.8" fill="none" stroke="#FF0000" stroke-width="1.5" stroke-linejoin="round"/>
<g fill="none" stroke="#FF0000" stroke-width="1.6"><circle cx="967.5" cy="1083.8" r="4.5"/><circle cx="968.8" cy="1084.8" r="4.5"/><circle cx="970.2" cy="1084.3" r="4.5"/><circle cx="971.5" cy="1082.7" r="4.5"/><circle cx="972.8" cy="1083.9" r="4.5"/><circle cx="974.2" cy="1083.8" r="4.5"/><circle cx="975.5" cy="1083.2" r="4.5"/><circle cx="976.8" cy="1083.2" r="4.5"/><circle cx="978.1" cy="1083.0" r="4.5"/><circle cx="979.5" cy="1081.3" r="4.5"/><circle cx="980.8" cy="1081.8" r="4.5"/><circle cx="982.1" cy="1081.7" r="4.5"/><circle cx="983.5" cy="1082.4" r="4.5"/><circle cx="984.8" cy="1082.5" r="4.5"/><circle cx="986.1" cy="1082.7" r="4.5"/><circle cx="987.5" cy="1082.4" r="4.5"/><circle cx="988.8" cy="1083.2" r="4.5"/><circle cx="990.1" cy="1082.9" r="4.5"/><circle cx="991.4" cy="1083.0" r="4.5"/><circle cx="992.8" cy="1081.9" r="4.5"/><circle cx="994.1" cy="1081.1" r="4.5"/><circle cx="995.4" cy="1080.7" r="4.5"/><circle cx="996.8" cy="1080.4" r="4.5"/><circle cx="998.1" cy="1079.2" r="4.5"/><circle cx="999.4" cy="1080.0" r="4.5"/><circle cx="1000.8" cy="1079.1" r="4.5"/><circle cx="1002.1" cy="1079.2" r="4.5"/><circle cx="1003.4" cy="1079.3" r="4.5"/><circle cx="1004.7" cy="1079.9" r="4.5"/><circle cx="1006.1" cy="1080.1" r="4.5"/><circle cx="1007.4" cy="1079.9" r="4.5"/><circle cx="1008.7" cy="1082.3" r="4.5"/><circle cx="1010.1" cy="1083.0" r="4.5"/><circle cx="1011.4" cy="1083.1" r="4.5"/><circle cx="1012.7" cy="1083.6" r="4.5"/><circle cx="1014.1" cy="1084.1" r="4.5"/><circle cx="1015.4" cy="1082.9" r="4.5"/><circle cx="1016.7" cy="1083.8" r="4.5"/><circle cx="1018.0" cy="1082.2" r="4.5"/><circle cx="1019.4" cy="1080.9" r="4.5"/><circle cx="1020.7" cy="1080.2" r="4.5"/><circle cx="1022.0" cy="1079.7" r="4.5"/><circle cx="1023.4" cy="1077.2" r="4.5"/><circle cx="1024.7" cy="1076.6" r="4.5"/><circle cx="1026.0" cy="1075.5" r="4.5"/><circle cx="1027.4" cy="1072.9" r="4.5"/><circle cx="1028.7" cy="1071.2" r="4.5"/><circle cx="1030.0" cy="1070.0" r="4.5"/><circle cx="1031.3" cy="1069.2" r="4.5"/><circle cx="1032.7" cy="1068.5" r="4.5"/><circle cx="1034.0" cy="1067.5" r="4.5"/><circle cx="1035.3" cy="1067.2" r="4.5"/><circle cx="1036.7" cy="1066.0" r="4.5"/><circle cx="1038.0" cy="1066.4" r="4.5"/><circle cx="1039.3" cy="1067.2" r="4.5"/><circle cx="1040.7" cy="1069.0" r="4.5"/><circle cx="1042.0" cy="1069.3" r="4.5"/><circle cx="1043.3" cy="1071.1" r="4.5"/><circle cx="1044.6" cy="1071.5" r="4.5"/><circle cx="1046.0" cy="1073.2" r="4.5"/><circle cx="1047.3" cy="1075.3" r="4.5"/><circle cx="1048.6" cy="1077.7" r="4.5"/><circle cx="1050.0" cy="1079.3" r="4.5"/><circle cx="1051.3" cy="1080.6" r="4.5"/><circle cx="1052.6" cy="1080.9" r="4.5"/><circle cx="1054.0" cy="1082.2" r="4.5"/><circle cx="1055.3" cy="1082.7" r="4.5"/><circle cx="1056.6" cy="1082.9" r="4.5"/><circle cx="1057.9" cy="1082.2" r="4.5"/><circle cx="1059.3" cy="1083.4" r="4.5"/><circle cx="1060.6" cy="1081.5" r="4.5"/><circle cx="1061.9" cy="1082.3" r="4.5"/><circle cx="1063.3" cy="1081.3" r="4.5"/><circle cx="1064.6" cy="1078.3" r="4.5"/><circle cx="1065.9" cy="1078.0" r="4.5"/><circle cx="1067.2" cy="1077.4" r="4.5"/><circle cx="1068.6" cy="1076.3" r="4.5"/><circle cx="1069.9" cy="1073.8" r="4.5"/><circle cx="1071.2" cy="1072.1" r="4.5"/><circle cx="1072.6" cy="1070.7" r="4.5"/><circle cx="1073.9" cy="1071.0" r="4.5"/><circle cx="1075.2" cy="1068.5" r="4.5"/><circle cx="1076.6" cy="1068.3" r="4.5"/><circle cx="1077.9" cy="1066.8" r="4.5"/><circle cx="1079.2" cy="1067.1" r="4.5"/><circle cx="1080.5" cy="1067.7" r="4.5"/><circle cx="1081.9" cy="1066.1" r="4.5"/><circle cx="1083.2" cy="1067.9" r="4.5"/><circle cx="1084.5" cy="1067.9" r="4.5"/><circle cx="1085.9" cy="1069.7" r="4.5"/><circle cx="1087.2" cy="1070.5" r="4.5"/><circle cx="1088.5" cy="1071.0" r="4.5"/><circle cx="1089.9" cy="1073.9" r="4.5"/><circle cx="1091.2" cy="1074.8" r="4.5"/><circle cx="1092.5" cy="1075.5" r="4.5"/><circle cx="1093.8" cy="1077.1" r="4.5"/><circle cx="1095.2" cy="1079.5" r="4.5"/><circle cx="1096.5" cy="1080.7" r="4.5"/><circle cx="1097.8" cy="1081.5" r="4.5"/><circle cx="1099.2" cy="1081.9" r="4.5"/><circle cx="1100.5" cy="1082.8" r="4.5"/><circle cx="1101.8" cy="1082.8" r="4.5"/><circle cx="1103.2" cy="1083.6" r="4.5"/><circle cx="1104.5" cy="1081.1" r="4.5"/><circle cx="1105.8" cy="1081.4" r="4.5"/><circle cx="1107.1" cy="1080.0" r="4.5"/><circle cx="1108.5" cy="1076.6" r="4.5"/><circle cx="1109.8" cy="1075.8" r="4.5"/><circle cx="1111.1" cy="1072.8" r="4.5"/><circle cx="1112.5" cy="1070.3" r="4.5"/><circle cx="1113.8" cy="1065.9" r="4.5"/><circle cx="1115.1" cy="1062.9" r="4.5"/><circle cx="1116.5" cy="1059.8" r="4.5"/><circle cx="1117.8" cy="1056.5" r="4.5"/><circle cx="1119.1" cy="1053.2" r="4.5"/><circle cx="1120.4" cy="1050.1" r="4.5"/><circle cx="1121.8" cy="1047.1" r="4.5"/><circle cx="1123.1" cy="1044.3" r="4.5"/><circle cx="1124.4" cy="1041.9" r="4.5"/><circle cx="1125.8" cy="1039.7" r="4.5"/><circle cx="1127.1" cy="1037.9" r="4.5"/><circle cx="1128.4" cy="1036.5" r="4.5"/><circle cx="1129.8" cy="1035.6" r="4.5"/><circle cx="1131.1" cy="1035.1" r="4.5"/><circle cx="1132.4" cy="1035.1" r="4.5"/><circle cx="1133.7" cy="1036.4" r="4.5"/><circle cx="1135.1" cy="1039.1" r="4.5"/><circle cx="1136.4" cy="1042.9" r="4.5"/><circle cx="1137.7" cy="1047.7" r="4.5"/><circle cx="1139.1" cy="1053.0" r="4.5"/><circle cx="1140.4" cy="1058.7" r="4.5"/><circle cx="1141.7" cy="1063.9" r="4.5"/><circle cx="1143.1" cy="1070.2" r="4.5"/><circle cx="1144.4" cy="1073.5" r="4.5"/><circle cx="1145.7" cy="1076.1" r="4.5"/><circle cx="1147.0" cy="1078.0" r="4.5"/><circle cx="1148.4" cy="1078.0" r="4.5"/><circle cx="1149.7" cy="1075.7" r="4.5"/><circle cx="1151.0" cy="1071.8" r="4.5"/><circle cx="1152.4" cy="1067.2" r="4.5"/><circle cx="1153.7" cy="1058.5" r="4.5"/><circle cx="1155.0" cy="1048.7" r="4.5"/><circle cx="1156.4" cy="1037.5" r="4.5"/><circle cx="1157.7" cy="1025.1" r="4.5"/><circle cx="1159.0" cy="1011.8" r="4.5"/><circle cx="1160.3" cy="998.1" r="4.5"/><circle cx="1161.7" cy="984.2" r="4.5"/><circle cx="1163.0" cy="970.6" r="4.5"/><circle cx="1164.3" cy="957.6" r="4.5"/><circle cx="1165.7" cy="945.5" r="4.5"/><circle cx="1167.0" cy="934.7" r="4.5"/><circle cx="1168.3" cy="925.5" r="4.5"/><circle cx="1169.7" cy="918.1" r="4.5"/><circle cx="1171.0" cy="912.6" r="4.5"/><circle cx="1172.3" cy="909.3" r="4.5"/><circle cx="1173.6" cy="908.3" r="4.5"/><circle cx="1175.0" cy="909.8" r="4.5"/><circle cx="1176.3" cy="914.0" r="4.5"/><circle cx="1177.6" cy="920.8" r="4.5"/><circle cx="1179.0" cy="930.0" r="4.5"/><circle cx="1180.3" cy="941.2" r="4.5"/><circle cx="1181.6" cy="954.1" r="4.5"/><circle cx="1183.0" cy="968.2" r="4.5"/><circle cx="1184.3" cy="983.1" r="4.5"/><circle cx="1185.6" cy="998.3" r="4.5"/><circle cx="1186.9" cy="1013.3" r="4.5"/><circle cx="1188.3" cy="1027.5" r="4.5"/><circle cx="1189.6" cy="1040.5" r="4.5"/><circle cx="1190.9" cy="1051.8" r="4.5"/><circle cx="1192.3" cy="1060.7" r="4.5"/><circle cx="1193.6" cy="1069.0" r="4.5"/><circle cx="1194.9" cy="1072.0" r="4.5"/><circle cx="1196.3" cy="1073.7" r="4.5"/><circle cx="1197.6" cy="1072.9" r="4.5"/><circle cx="1198.9" cy="1067.5" r="4.5"/><circle cx="1200.2" cy="1059.9" r="4.5"/><circle cx="1201.6" cy="1049.1" r="4.5"/><circle cx="1202.9" cy="1035.3" r="4.5"/><circle cx="1204.2" cy="1019.0" r="4.5"/><circle cx="1205.6" cy="1000.8" r="4.5"/><circle cx="1206.9" cy="981.1" r="4.5"/><circle cx="1208.2" cy="960.3" r="4.5"/><circle cx="1209.6" cy="939.1" r="4.5"/><circle cx="1210.9" cy="917.9" r="4.5"/><circle cx="1212.2" cy="897.4" r="4.5"/><circle cx="1213.5" cy="877.9" r="4.5"/><circle cx="1214.9" cy="860.2" r="4.5"/><circle cx="1216.2" cy="844.5" r="4.5"/><circle cx="1217.5" cy="831.3" r="4.5"/><circle cx="1218.9" cy="821.0" r="4.5"/><circle cx="1220.2" cy="813.8" r="4.5"/><circle cx="1221.5" cy="809.8" r="4.5"/><circle cx="1222.9" cy="809.3" r="4.5"/><circle cx="1224.2" cy="812.4" r="4.5"/><circle cx="1225.5" cy="819.1" r="4.5"/><circle cx="1226.8" cy="829.2" r="4.5"/><circle cx="1228.2" cy="842.4" r="4.5"/><circle cx="1229.5" cy="858.4" r="4.5"/><circle cx="1230.8" cy="876.6" r="4.5"/><circle cx="1232.2" cy="896.7" r="4.5"/><circle cx="1233.5" cy="918.0" r="4.5"/><circle cx="1234.8" cy="939.9" r="4.5"/><circle cx="1236.2" cy="961.9" r="4.5"/><circle cx="1237.5" cy="983.2" r="4.5"/><circle cx="1238.8" cy="1003.5" r="4.5"/><circle cx="1240.1" cy="1021.9" r="4.5"/><circle cx="1241.5" cy="1038.1" r="4.5"/><circle cx="1242.8" cy="1051.7" r="4.5"/><circle cx="1244.1" cy="1063.0" r="4.5"/><circle cx="1245.5" cy="1069.9" r="4.5"/><circle cx="1246.8" cy="1073.2" r="4.5"/><circle cx="1248.1" cy="1072.4" r="4.5"/><circle cx="1249.5" cy="1067.2" r="4.5"/><circle cx="1250.8" cy="1055.2" r="4.5"/><circle cx="1252.1" cy="1038.9" r="4.5"/><circle cx="1253.4" cy="1017.9" r="4.5"/><circle cx="1254.8" cy="992.6" r="4.5"/><circle cx="1256.1" cy="963.7" r="4.5"/><circle cx="1257.4" cy="931.9" r="4.5"/><circle cx="1258.8" cy="897.8" r="4.5"/><circle cx="1260.1" cy="862.4" r="4.5"/><circle cx="1261.4" cy="826.4" r="4.5"/><circle cx="1262.8" cy="790.7" r="4.5"/><circle cx="1264.1" cy="756.2" r="4.5"/><circle cx="1265.4" cy="723.7" r="4.5"/><circle cx="1266.7" cy="693.9" r="4.5"/><circle cx="1268.1" cy="667.6" r="4.5"/><circle cx="1269.4" cy="645.3" r="4.5"/><circle cx="1270.7" cy="627.6" r="4.5"/><circle cx="1272.1" cy="615.0" r="4.5"/><circle cx="1273.4" cy="607.7" r="4.5"/><circle cx="1274.7" cy="605.9" r="4.5"/><circle cx="1276.1" cy="610.2" r="4.5"/><circle cx="1277.4" cy="620.6" r="4.5"/><circle cx="1278.7" cy="637.0" r="4.5"/><circle cx="1280.0" cy="658.9" r="4.5"/><circle cx="1281.4" cy="685.7" r="4.5"/><circle cx="1282.7" cy="716.6" r="4.5"/><circle cx="1284.0" cy="750.8" r="4.5"/><circle cx="1285.4" cy="787.4" r="4.5"/><circle cx="1286.7" cy="825.5" r="4.5"/><circle cx="1288.0" cy="863.8" r="4.5"/><circle cx="1289.4" cy="901.5" r="4.5"/><circle cx="1290.7" cy="937.5" r="4.5"/><circle cx="1292.0" cy="970.7" r="4.5"/><circle cx="1293.3" cy="1000.4" r="4.5"/><circle cx="1294.7" cy="1025.6" r="4.5"/><circle cx="1296.0" cy="1045.8" r="4.5"/><circle cx="1297.3" cy="1061.2" r="4.5"/><circle cx="1298.7" cy="1068.9" r="4.5"/><circle cx="1300.0" cy="1071.5" r="4.5"/><circle cx="1301.3" cy="1066.9" r="4.5"/><circle cx="1302.7" cy="1059.6" r="4.5"/><circle cx="1304.0" cy="1046.8" r="4.5"/><circle cx="1305.3" cy="1029.4" r="4.5"/><circle cx="1306.6" cy="1008.0" r="4.5"/><circle cx="1308.0" cy="983.1" r="4.5"/><circle cx="1309.3" cy="955.1" r="4.5"/><circle cx="1310.6" cy="924.8" r="4.5"/><circle cx="1312.0" cy="892.8" r="4.5"/><circle cx="1313.3" cy="859.8" r="4.5"/><circle cx="1314.6" cy="826.6" r="4.5"/><circle cx="1316.0" cy="793.9" r="4.5"/><circle cx="1317.3" cy="762.5" r="4.5"/><circle cx="1318.6" cy="733.0" r="4.5"/><circle cx="1319.9" cy="706.2" r="4.5"/><circle cx="1321.3" cy="682.6" r="4.5"/><circle cx="1322.6" cy="662.8" r="4.5"/><circle cx="1323.9" cy="647.2" r="4.5"/><circle cx="1325.3" cy="636.1" r="4.5"/><circle cx="1326.6" cy="629.9" r="4.5"/><circle cx="1327.9" cy="628.7" r="4.5"/><circle cx="1329.3" cy="632.5" r="4.5"/><circle cx="1330.6" cy="641.4" r="4.5"/><circle cx="1331.9" cy="655.2" r="4.5"/><circle cx="1333.2" cy="673.5" r="4.5"/><circle cx="1334.6" cy="695.9" r="4.5"/><circle cx="1335.9" cy="721.9" r="4.5"/><circle cx="1337.2" cy="750.9" r="4.5"/><circle cx="1338.6" cy="782.3" r="4.5"/><circle cx="1339.9" cy="815.3" r="4.5"/><circle cx="1341.2" cy="849.2" r="4.5"/><circle cx="1342.6" cy="883.2" r="4.5"/><circle cx="1343.9" cy="916.5" r="4.5"/><circle cx="1345.2" cy="948.4" r="4.5"/><circle cx="1346.5" cy="978.0" r="4.5"/><circle cx="1347.9" cy="1004.9" r="4.5"/><circle cx="1349.2" cy="1028.3" r="4.5"/><circle cx="1350.5" cy="1047.7" r="4.5"/><circle cx="1351.9" cy="1063.1" r="4.5"/><circle cx="1353.2" cy="1072.7" r="4.5"/><circle cx="1354.5" cy="1078.5" r="4.5"/><circle cx="1355.9" cy="1078.6" r="4.5"/><circle cx="1357.2" cy="1075.1" r="4.5"/><circle cx="1358.5" cy="1069.3" r="4.5"/><circle cx="1359.8" cy="1063.1" r="4.5"/><circle cx="1361.2" cy="1052.0" r="4.5"/><circle cx="1362.5" cy="1039.6" r="4.5"/><circle cx="1363.8" cy="1025.4" r="4.5"/><circle cx="1365.2" cy="1009.7" r="4.5"/><circle cx="1366.5" cy="992.8" r="4.5"/><circle cx="1367.8" cy="975.1" r="4.5"/><circle cx="1369.2" cy="957.0" r="4.5"/><circle cx="1370.5" cy="939.0" r="4.5"/><circle cx="1371.8" cy="921.4" r="4.5"/><circle cx="1373.1" cy="904.6" r="4.5"/><circle cx="1374.5" cy="889.1" r="4.5"/><circle cx="1375.8" cy="875.2" r="4.5"/><circle cx="1377.1" cy="863.1" r="4.5"/><circle cx="1378.5" cy="853.2" r="4.5"/><circle cx="1379.8" cy="845.7" r="4.5"/><circle cx="1381.1" cy="840.8" r="4.5"/><circle cx="1382.5" cy="838.5" r="4.5"/><circle cx="1383.8" cy="838.8" r="4.5"/><circle cx="1385.1" cy="840.9" r="4.5"/><circle cx="1386.4" cy="844.8" r="4.5"/><circle cx="1387.8" cy="850.4" r="4.5"/><circle cx="1389.1" cy="857.7" r="4.5"/><circle cx="1390.4" cy="866.4" r="4.5"/><circle cx="1391.8" cy="876.6" r="4.5"/><circle cx="1393.1" cy="887.9" r="4.5"/><circle cx="1394.4" cy="900.4" r="4.5"/><circle cx="1395.8" cy="913.7" r="4.5"/><circle cx="1397.1" cy="927.7" r="4.5"/><circle cx="1398.4" cy="942.2" r="4.5"/><circle cx="1399.7" cy="956.9" r="4.5"/><circle cx="1401.1" cy="971.7" r="4.5"/><circle cx="1402.4" cy="986.2" r="4.5"/><circle cx="1403.7" cy="1000.4" r="4.5"/><circle cx="1405.1" cy="1013.9" r="4.5"/><circle cx="1406.4" cy="1026.5" r="4.5"/><circle cx="1407.7" cy="1038.2" r="4.5"/><circle cx="1409.1" cy="1048.6" r="4.5"/><circle cx="1410.4" cy="1057.7" r="4.5"/><circle cx="1411.7" cy="1064.5" r="4.5"/><circle cx="1413.0" cy="1071.2" r="4.5"/><circle cx="1414.4" cy="1075.2" r="4.5"/><circle cx="1415.7" cy="1077.7" r="4.5"/><circle cx="1417.0" cy="1079.3" r="4.5"/><circle cx="1418.4" cy="1079.1" r="4.5"/><circle cx="1419.7" cy="1076.0" r="4.5"/><circle cx="1421.0" cy="1074.1" r="4.5"/><circle cx="1422.4" cy="1069.8" r="4.5"/><circle cx="1423.7" cy="1066.0" r="4.5"/><circle cx="1425.0" cy="1060.5" r="4.5"/><circle cx="1426.3" cy="1055.1" r="4.5"/><circle cx="1427.7" cy="1049.1" r="4.5"/><circle cx="1429.0" cy="1042.8" r="4.5"/><circle cx="1430.3" cy="1036.5" r="4.5"/><circle cx="1431.7" cy="1030.2" r="4.5"/><circle cx="1433.0" cy="1024.3" r="4.5"/><circle cx="1434.3" cy="1018.8" r="4.5"/><circle cx="1435.7" cy="1014.0" r="4.5"/><circle cx="1437.0" cy="1009.8" r="4.5"/><circle cx="1438.3" cy="1006.6" r="4.5"/><circle cx="1439.6" cy="1004.2" r="4.5"/><circle cx="1441.0" cy="1002.9" r="4.5"/><circle cx="1442.3" cy="1002.6" r="4.5"/><circle cx="1443.6" cy="1003.1" r="4.5"/><circle cx="1445.0" cy="1004.2" r="4.5"/><circle cx="1446.3" cy="1005.9" r="4.5"/><circle cx="1447.6" cy="1008.2" r="4.5"/><circle cx="1449.0" cy="1011.1" r="4.5"/><circle cx="1450.3" cy="1014.5" r="4.5"/><circle cx="1451.6" cy="1018.3" r="4.5"/><circle cx="1452.9" cy="1022.6" r="4.5"/><circle cx="1454.3" cy="1027.1" r="4.5"/><circle cx="1455.6" cy="1031.9" r="4.5"/><circle cx="1456.9" cy="1036.9" r="4.5"/><circle cx="1458.3" cy="1042.0" r="4.5"/><circle cx="1459.6" cy="1047.1" r="4.5"/><circle cx="1460.9" cy="1052.1" r="4.5"/><circle cx="1462.3" cy="1057.0" r="4.5"/><circle cx="1463.6" cy="1060.9" r="4.5"/><circle cx="1464.9" cy="1065.3" r="4.5"/><circle cx="1466.2" cy="1069.3" r="4.5"/><circle cx="1467.6" cy="1074.3" r="4.5"/><circle cx="1468.9" cy="1076.5" r="4.5"/><circle cx="1470.2" cy="1078.5" r="4.5"/><circle cx="1471.6" cy="1081.8" r="4.5"/><circle cx="1472.9" cy="1083.3" r="4.5"/><circle cx="1474.2" cy="1082.9" r="4.5"/><circle cx="1475.6" cy="1082.4" r="4.5"/><circle cx="1476.9" cy="1082.3" r="4.5"/><circle cx="1478.2" cy="1081.8" r="4.5"/><circle cx="1479.5" cy="1081.9" r="4.5"/><circle cx="1480.9" cy="1080.8" r="4.5"/><circle cx="1482.2" cy="1080.4" r="4.5"/><circle cx="1483.5" cy="1079.6" r="4.5"/><circle cx="1484.9" cy="1079.3" r="4.5"/><circle cx="1486.2" cy="1078.9" r="4.5"/><circle cx="1487.5" cy="1077.6" r="4.5"/><circle cx="1488.9" cy="1075.8" r="4.5"/><circle cx="1490.2" cy="1074.7" r="4.5"/><circle cx="1491.5" cy="1073.8" r="4.5"/><circle cx="1492.8" cy="1072.4" r="4.5"/><circle cx="1494.2" cy="1071.3" r="4.5"/><circle cx="1495.5" cy="1069.8" r="4.5"/><circle cx="1496.8" cy="1069.3" r="4.5"/><circle cx="1498.2" cy="1069.9" r="4.5"/><circle cx="1499.5" cy="1067.6" r="4.5"/><circle cx="1500.8" cy="1067.8" r="4.5"/><circle cx="1502.2" cy="1067.6" r="4.5"/><circle cx="1503.5" cy="1067.8" r="4.5"/><circle cx="1504.8" cy="1066.4" r="4.5"/><circle cx="1506.1" cy="1066.6" r="4.5"/><circle cx="1507.5" cy="1066.7" r="4.5"/><circle cx="1508.8" cy="1067.2" r="4.5"/><circle cx="1510.1" cy="1067.6" r="4.5"/><circle cx="1511.5" cy="1069.0" r="4.5"/><circle cx="1512.8" cy="1069.2" r="4.5"/><circle cx="1514.1" cy="1069.8" r="4.5"/><circle cx="1515.5" cy="1068.7" r="4.5"/><circle cx="1516.8" cy="1069.4" r="4.5"/><circle cx="1518.1" cy="1071.5" r="4.5"/><circle cx="1519.4" cy="1072.6" r="4.5"/><circle cx="1520.8" cy="1072.6" r="4.5"/><circle cx="1522.1" cy="1073.7" r="4.5"/><circle cx="1523.4" cy="1073.4" r="4.5"/><circle cx="1524.8" cy="1075.0" r="4.5"/><circle cx="1526.1" cy="1077.0" r="4.5"/><circle cx="1527.4" cy="1077.6" r="4.5"/><circle cx="1528.8" cy="1078.6" r="4.5"/><circle cx="1530.1" cy="1079.6" r="4.5"/><circle cx="1531.4" cy="1079.0" r="4.5"/><circle cx="1532.7" cy="1079.4" r="4.5"/><circle cx="1534.1" cy="1080.2" r="4.5"/><circle cx="1535.4" cy="1081.6" r="4.5"/><circle cx="1536.7" cy="1082.5" r="4.5"/><circle cx="1538.1" cy="1083.5" r="4.5"/><circle cx="1539.4" cy="1083.4" r="4.5"/><circle cx="1540.7" cy="1083.6" r="4.5"/><circle cx="1542.1" cy="1084.1" r="4.5"/><circle cx="1543.4" cy="1083.6" r="4.5"/><circle cx="1544.7" cy="1083.9" r="4.5"/><circle cx="1546.0" cy="1082.8" r="4.5"/><circle cx="1547.4" cy="1084.2" r="4.5"/><circle cx="1548.7" cy="1082.8" r="4.5"/><circle cx="1550.0" cy="1083.8" r="4.5"/><circle cx="1551.4" cy="1082.9" r="4.5"/><circle cx="1552.7" cy="1081.9" r="4.5"/><circle cx="1554.0" cy="1081.2" r="4.5"/><circle cx="1555.4" cy="1081.3" r="4.5"/><circle cx="1556.7" cy="1082.1" r="4.5"/><circle cx="1558.0" cy="1082.3" r="4.5"/><circle cx="1559.3" cy="1081.4" r="4.5"/><circle cx="1560.7" cy="1081.6" r="4.5"/><circle cx="1562.0" cy="1082.7" r="4.5"/><circle cx="1563.3" cy="1083.0" r="4.5"/><circle cx="1564.7" cy="1082.4" r="4.5"/><circle cx="1566.0" cy="1081.6" r="4.5"/><circle cx="1567.3" cy="1081.6" r="4.5"/><circle cx="1568.7" cy="1079.8" r="4.5"/><circle cx="1570.0" cy="1080.0" r="4.5"/><circle cx="1571.3" cy="1080.3" r="4.5"/><circle cx="1572.6" cy="1081.6" r="4.5"/><circle cx="1574.0" cy="1081.6" r="4.5"/><circle cx="1575.3" cy="1082.7" r="4.5"/><circle cx="1576.6" cy="1082.1" r="4.5"/><circle cx="1578.0" cy="1081.6" r="4.5"/><circle cx="1579.3" cy="1081.5" r="4.5"/><circle cx="1580.6" cy="1082.8" r="4.5"/><circle cx="1582.0" cy="1082.1" r="4.5"/><circle cx="1583.3" cy="1081.2" r="4.5"/><circle cx="1584.6" cy="1080.7" r="4.5"/><circle cx="1585.9" cy="1081.8" r="4.5"/><circle cx="1587.3" cy="1082.4" r="4.5"/><circle cx="1588.6" cy="1082.2" r="4.5"/><circle cx="1589.9" cy="1082.3" r="4.5"/><circle cx="1591.3" cy="1083.5" r="4.5"/><circle cx="1592.6" cy="1084.3" r="4.5"/><circle cx="1593.9" cy="1083.0" r="4.5"/><circle cx="1595.3" cy="1082.7" r="4.5"/><circle cx="1596.6" cy="1083.6" r="4.5"/><circle cx="1597.9" cy="1084.1" r="4.5"/><circle cx="1599.2" cy="1084.8" r="4.5"/></g></g>
<text transform="matrix(0.4862,0,0,0.4761,14.20,58.43)" font-family="Carlito, 'Liberation Sans', sans-serif" font-size="100" font-style="normal" textLength="108.5" lengthAdjust="spacingAndGlyphs">(a)</text>
<text transform="matrix(0.5010,0,0,0.4625,874.69,61.62)" font-family="Carlito, 'Liberation Sans', sans-serif" font-size="100" font-style="normal" textLength="113.2" lengthAdjust="spacingAndGlyphs">(b)</text>
<text transform="matrix(0.4898,0,0,0.4636,22.17,1201.91)" font-family="Carlito, 'Liberation Sans', sans-serif" font-size="100" font-style="normal" textLength="102.9" lengthAdjust="spacingAndGlyphs">(c)</text>
<text transform="matrix(0.4778,0,0,0.4636,870.96,1203.21)" font-family="Carlito, 'Liberation Sans', sans-serif" font-size="100" font-style="normal" textLength="113.2" lengthAdjust="spacingAndGlyphs">(d)</text>
<text transform="matrix(0.2612,0,0,0.2557,174.12,115.00)" font-family="Carlito, 'Liberation Sans', sans-serif" font-size="100" font-style="normal" textLength="554.1" lengthAdjust="spacingAndGlyphs">CW threshold</text>
<text transform="matrix(0.2603,0,0,0.2529,377.62,114.80)" font-family="Carlito, 'Liberation Sans', sans-serif" font-size="100" font-style="normal" textLength="539.4" lengthAdjust="spacingAndGlyphs">ML threshold</text>
<text transform="matrix(0.2570,0,0,0.2593,574.60,114.55)" font-family="Carlito, 'Liberation Sans', sans-serif" font-size="100" font-style="normal" textLength="531.5" lengthAdjust="spacingAndGlyphs">Double pulse</text>
<text transform="matrix(0.2608,0,0,0.2586,574.98,145.50)" font-family="Carlito, 'Liberation Sans', sans-serif" font-size="100" font-style="normal" textLength="389.2" lengthAdjust="spacingAndGlyphs">threshold</text>
<text transform="matrix(0.2746,0,0,0.2831,665.08,333.40)" font-family="Carlito, 'Liberation Sans', sans-serif" font-size="100" font-style="normal" textLength="142.3" lengthAdjust="spacingAndGlyphs">CW</text>
<text transform="matrix(0.2864,0,0,0.2769,664.71,367.30)" font-family="Carlito, 'Liberation Sans', sans-serif" font-size="100" font-style="normal" textLength="127.5" lengthAdjust="spacingAndGlyphs">ML</text>
<text transform="matrix(0.3731,0,0,0.3741,548.19,533.21)" font-family="Carlito, 'Liberation Sans', sans-serif" font-size="100" font-style="normal" textLength="519.3" lengthAdjust="spacingAndGlyphs">Pump power</text>
<text transform="matrix(0.2450,0,0,0.3288,981.13,78.37)" font-family="'Liberation Serif', 'Times New Roman', serif" font-size="100" font-style="normal" textLength="50.0" lengthAdjust="spacingAndGlyphs">5</text>
<text transform="matrix(0.1743,0,0,0.3197,981.33,452.90)" font-family="'Liberation Serif', 'Times New Roman', serif" font-size="100" font-style="normal" textLength="50.0" lengthAdjust="spacingAndGlyphs">1</text>
<text transform="matrix(0.2550,0,0,0.3091,1576.77,78.79)" font-family="'Liberation Serif', 'Times New Roman', serif" font-size="100" font-style="normal" textLength="50.0" lengthAdjust="spacingAndGlyphs">5</text>
<text transform="matrix(0.1857,0,0,0.3242,1576.63,453.70)" font-family="'Liberation Serif', 'Times New Roman', serif" font-size="100" font-style="normal" textLength="50.0" lengthAdjust="spacingAndGlyphs">1</text>
<text transform="matrix(0.2522,0,0,0.3368,997.79,485.13)" font-family="'Liberation Serif', 'Times New Roman', serif" font-size="100" font-style="normal" textLength="125.0" lengthAdjust="spacingAndGlyphs">0.1</text>
<text transform="matrix(0.2744,0,0,0.3388,1534.80,485.12)" font-family="'Liberation Serif', 'Times New Roman', serif" font-size="100" font-style="normal" textLength="125.0" lengthAdjust="spacingAndGlyphs">0.9</text>
<text transform="matrix(0.4691,0,0,0.4477,1214.73,518.80)" font-family="'Liberation Serif', 'Times New Roman', serif" font-size="100" font-style="italic" textLength="55.6" lengthAdjust="spacingAndGlyphs">Z</text>
<text transform="matrix(0.4577,0,0,0.4378,1253.17,518.31)" font-family="'Liberation Serif', 'Times New Roman', serif" font-size="100" font-style="normal" textLength="33.3" lengthAdjust="spacingAndGlyphs">(</text>
<text transform="matrix(0.4074,0,0,0.4234,1267.07,519.00)" font-family="'Liberation Serif', 'Times New Roman', serif" font-size="100" font-style="italic" textLength="144.4" lengthAdjust="spacingAndGlyphs">mm</text>
<text transform="matrix(0.4577,0,0,0.4378,1323.53,518.31)" font-family="'Liberation Serif', 'Times New Roman', serif" font-size="100" font-style="normal" textLength="33.3" lengthAdjust="spacingAndGlyphs">)</text>
<text transform="matrix(0.3506,0,0,0.3647,84.64,619.27)" font-family="'Liberation Serif', 'Times New Roman', serif" font-size="100" font-style="normal" textLength="100.0" lengthAdjust="spacingAndGlyphs">10</text>
<text transform="matrix(0.2043,0,0,0.2215,119.39,603.40)" font-family="'Liberation Serif', 'Times New Roman', serif" font-size="100" font-style="normal" textLength="50.0" lengthAdjust="spacingAndGlyphs">4</text>
<text transform="matrix(0.3678,0,0,0.3618,83.49,1097.88)" font-family="'Liberation Serif', 'Times New Roman', serif" font-size="100" font-style="normal" textLength="100.0" lengthAdjust="spacingAndGlyphs">10</text>
<text transform="matrix(0.2350,0,0,0.2154,118.86,1082.00)" font-family="'Liberation Serif', 'Times New Roman', serif" font-size="100" font-style="normal" textLength="50.0" lengthAdjust="spacingAndGlyphs">2</text>
<text transform="matrix(0.3676,0,0,0.3818,112.43,1137.82)" font-family="'Liberation Serif', 'Times New Roman', serif" font-size="100" font-style="normal" textLength="150.0" lengthAdjust="spacingAndGlyphs">725</text>
<text transform="matrix(0.3741,0,0,0.3761,192.58,1137.45)" font-family="'Liberation Serif', 'Times New Roman', serif" font-size="100" font-style="normal" textLength="150.0" lengthAdjust="spacingAndGlyphs">760</text>
<text transform="matrix(0.3662,0,0,0.3761,289.74,1137.45)" font-family="'Liberation Serif', 'Times New Roman', serif" font-size="100" font-style="normal" textLength="150.0" lengthAdjust="spacingAndGlyphs">800</text>
<text transform="matrix(0.3643,0,0,0.3761,520.21,1137.45)" font-family="'Liberation Serif', 'Times New Roman', serif" font-size="100" font-style="normal" textLength="150.0" lengthAdjust="spacingAndGlyphs">900</text>
<text transform="matrix(0.3608,0,0,0.3761,669.92,1137.45)" font-family="'Liberation Serif', 'Times New Roman', serif" font-size="100" font-style="normal" textLength="150.0" lengthAdjust="spacingAndGlyphs">965</text>
<text transform="matrix(0.3663,0,0,0.3706,739.40,1137.46)" font-family="'Liberation Serif', 'Times New Roman', serif" font-size="100" font-style="normal" textLength="200.0" lengthAdjust="spacingAndGlyphs">1000</text>
<text transform="matrix(0.6778,0,0,0.5371,363.27,1199.00) skewX(-12)" font-family="'Liberation Serif', 'Times New Roman', serif" font-size="100" font-style="normal" textLength="48.5" lengthAdjust="spacingAndGlyphs">λ</text>
<text transform="matrix(0.6077,0,0,0.5300,405.87,1198.57)" font-family="'Liberation Serif', 'Times New Roman', serif" font-size="100" font-style="normal" textLength="33.3" lengthAdjust="spacingAndGlyphs">(</text>
<text transform="matrix(0.5781,0,0,0.5149,424.79,1199.00)" font-family="'Liberation Serif', 'Times New Roman', serif" font-size="100" font-style="italic" textLength="122.2" lengthAdjust="spacingAndGlyphs">nm</text>
<text transform="matrix(0.6038,0,0,0.5300,491.79,1198.57)" font-family="'Liberation Serif', 'Times New Roman', serif" font-size="100" font-style="normal" textLength="33.3" lengthAdjust="spacingAndGlyphs">)</text>
<text transform="matrix(0.3510,0,0,0.3729,159.90,685.63)" font-family="'Liberation Serif', 'Times New Roman', serif" font-size="100" font-style="italic" textLength="150.0" lengthAdjust="spacingAndGlyphs">3db</text>
<text transform="matrix(0.4064,0,0,0.3687,398.37,914.62)" font-family="'Liberation Serif', 'Times New Roman', serif" font-size="100" font-style="normal" textLength="56.4" lengthAdjust="spacingAndGlyphs">&gt;</text>
<text transform="matrix(0.3676,0,0,0.3716,427.13,910.96)" font-family="'Liberation Serif', 'Times New Roman', serif" font-size="100" font-style="normal" textLength="150.0" lengthAdjust="spacingAndGlyphs">200</text>
<text transform="matrix(0.3781,0,0,0.3660,481.09,911.70)" font-family="'Liberation Serif', 'Times New Roman', serif" font-size="100" font-style="italic" textLength="122.2" lengthAdjust="spacingAndGlyphs">nm</text>
<text transform="matrix(0.2514,0,0,0.3712,933.54,619.10)" font-family="'Liberation Serif', 'Times New Roman', serif" font-size="100" font-style="normal" textLength="50.0" lengthAdjust="spacingAndGlyphs">1</text>
<text transform="matrix(0.3548,0,0,0.3627,928.58,1093.97)" font-family="'Liberation Serif', 'Times New Roman', serif" font-size="100" font-style="normal" textLength="50.0" lengthAdjust="spacingAndGlyphs">0</text>
<text transform="matrix(0.3482,0,0,0.3788,939.46,1138.42)" font-family="'Liberation Serif', 'Times New Roman', serif" font-size="100" font-style="normal" textLength="150.0" lengthAdjust="spacingAndGlyphs">725</text>
<text transform="matrix(0.3650,0,0,0.3567,1572.70,1138.09)" font-family="'Liberation Serif', 'Times New Roman', serif" font-size="100" font-style="normal" textLength="150.0" lengthAdjust="spacingAndGlyphs">950</text>
<text transform="matrix(0.6667,0,0,0.5443,1202.70,1197.30) skewX(-12)" font-family="'Liberation Serif', 'Times New Roman', serif" font-size="100" font-style="normal" textLength="48.5" lengthAdjust="spacingAndGlyphs">λ</text>
<text transform="matrix(0.5885,0,0,0.5367,1243.75,1196.73)" font-family="'Liberation Serif', 'Times New Roman', serif" font-size="100" font-style="normal" textLength="33.3" lengthAdjust="spacingAndGlyphs">(</text>
<text transform="matrix(0.5588,0,0,0.5298,1261.86,1197.10)" font-family="'Liberation Serif', 'Times New Roman', serif" font-size="100" font-style="italic" textLength="122.2" lengthAdjust="spacingAndGlyphs">nm</text>
<text transform="matrix(0.5923,0,0,0.5367,1326.42,1196.73)" font-family="'Liberation Serif', 'Times New Roman', serif" font-size="100" font-style="normal" textLength="33.3" lengthAdjust="spacingAndGlyphs">)</text>
<text x="1060.90" y="115.70" font-family="Carlito, 'Liberation Sans', sans-serif" font-size="25.0" textLength="134.8" lengthAdjust="spacingAndGlyphs">ML threshold</text>
<text x="1060.90" y="144.90" font-family="Carlito, 'Liberation Sans', sans-serif" font-size="25.0" textLength="130.0" lengthAdjust="spacingAndGlyphs">ML/CW ratio</text>
<text transform="translate(60.80,388.10) rotate(-90)" font-family="Carlito, 'Liberation Sans', sans-serif" font-size="37.5" textLength="215.1" lengthAdjust="spacingAndGlyphs">Output power</text>
<text transform="translate(956.90,400.72) rotate(-90)" font-family="Carlito, 'Liberation Sans', sans-serif" font-size="37.7" textLength="302.6" lengthAdjust="spacingAndGlyphs">ML/CW power ratio</text>
<text transform="translate(1597.20,129.85) rotate(90)" font-family="Carlito, 'Liberation Sans', sans-serif" font-size="37.8" textLength="261.4" lengthAdjust="spacingAndGlyphs">Pump power (W)</text>
<text transform="translate(64.70,1031.67) rotate(-90)" font-family="Carlito, 'Liberation Sans', sans-serif" font-size="42.4" textLength="366.4" lengthAdjust="spacingAndGlyphs">Spectral power (Arb.)</text>
<text transform="translate(918.40,1038.47) rotate(-90)" font-family="Carlito, 'Liberation Sans', sans-serif" font-size="42.2" textLength="364.7" lengthAdjust="spacingAndGlyphs">Spectral power (Arb.)</text>
</svg></body></html>
